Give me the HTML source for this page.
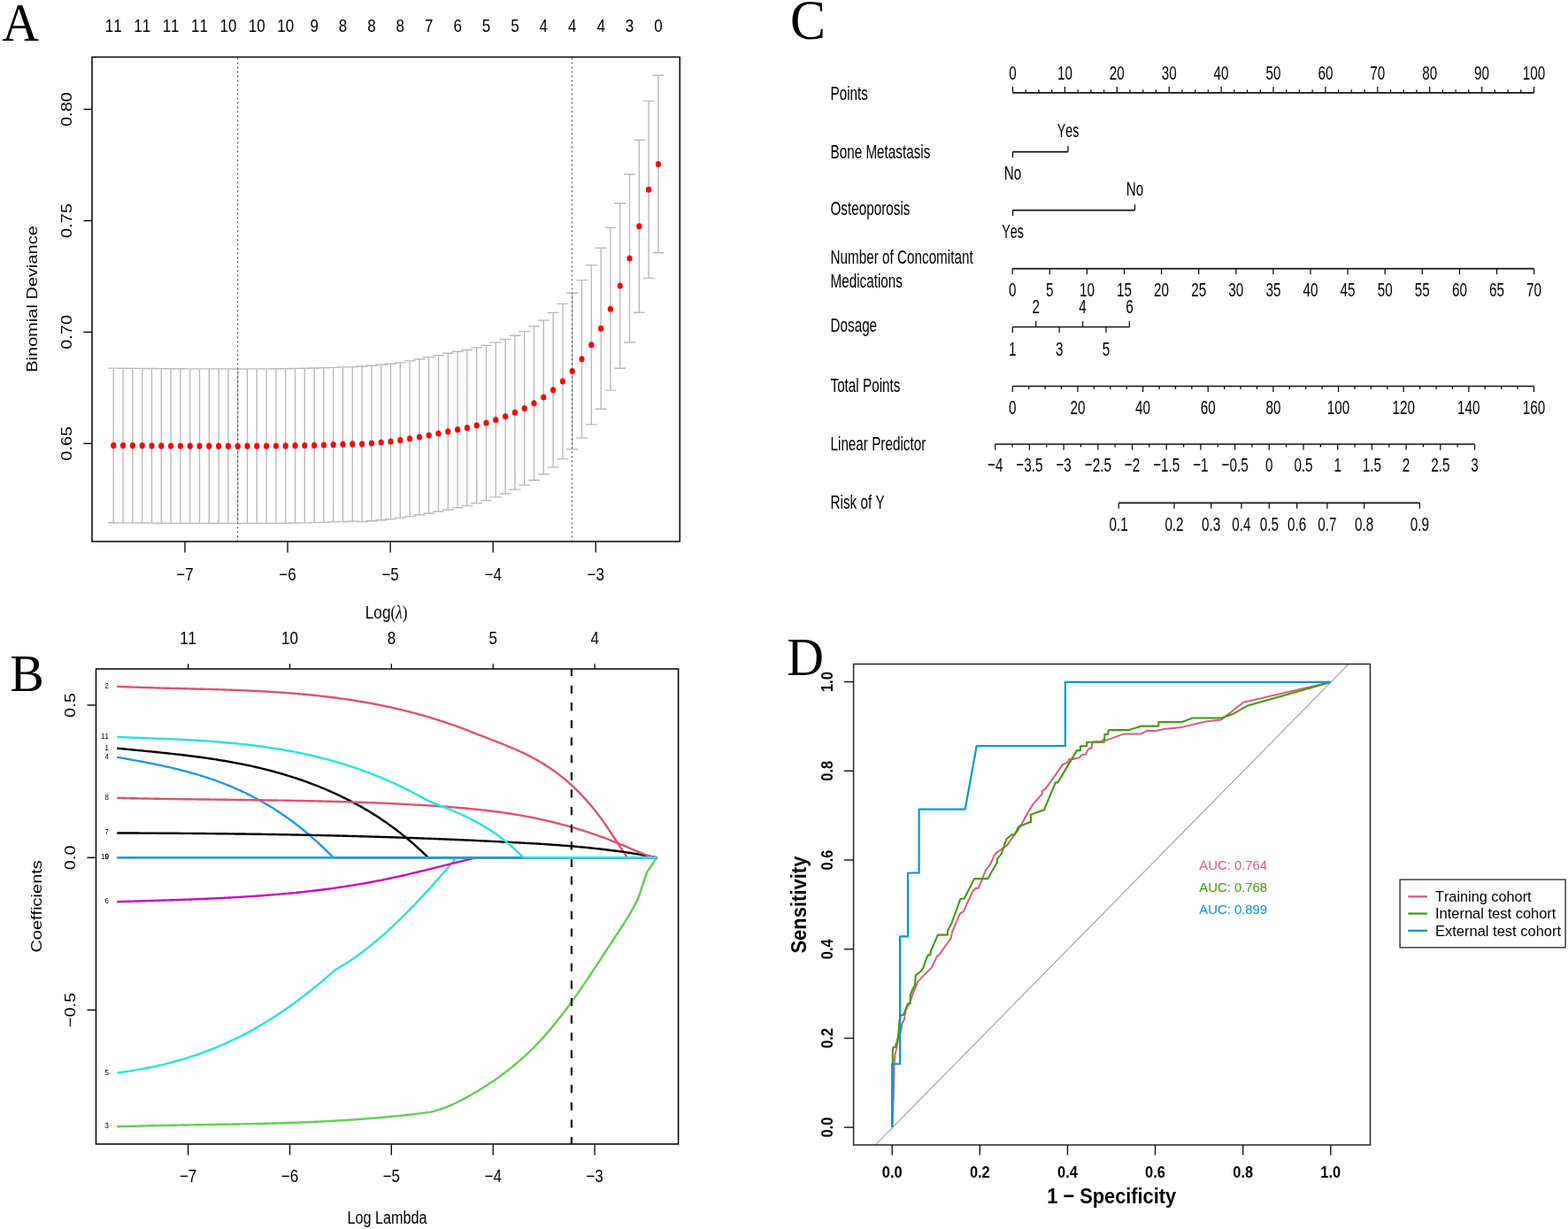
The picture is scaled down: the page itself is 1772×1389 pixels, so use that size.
<!DOCTYPE html>
<html><head><meta charset="utf-8"><title>Figure</title>
<style>html,body{margin:0;padding:0;background:#fff;overflow:hidden;}svg{display:block;}text{font-kerning:none;}</style>
</head><body>
<svg width="1772" height="1389" viewBox="0 0 1772 1389" font-family="'Liberation Sans', Arial, sans-serif">
<rect width="1772" height="1389" fill="#fff"/>
<text transform="translate(2.2,45.9) scale(0.94,1)" font-size="61.5" font-family="'Liberation Serif', serif">A</text>
<text transform="translate(128.3,36.2) scale(0.85,1)" font-size="20" text-anchor="middle">11</text>
<text transform="translate(160.7,36.2) scale(0.85,1)" font-size="20" text-anchor="middle">11</text>
<text transform="translate(193.1,36.2) scale(0.85,1)" font-size="20" text-anchor="middle">11</text>
<text transform="translate(225.5,36.2) scale(0.85,1)" font-size="20" text-anchor="middle">11</text>
<text transform="translate(257.9,36.2) scale(0.85,1)" font-size="20" text-anchor="middle">10</text>
<text transform="translate(290.3,36.2) scale(0.85,1)" font-size="20" text-anchor="middle">10</text>
<text transform="translate(322.7,36.2) scale(0.85,1)" font-size="20" text-anchor="middle">10</text>
<text transform="translate(355.1,36.2) scale(0.85,1)" font-size="20" text-anchor="middle">9</text>
<text transform="translate(387.5,36.2) scale(0.85,1)" font-size="20" text-anchor="middle">8</text>
<text transform="translate(419.9,36.2) scale(0.85,1)" font-size="20" text-anchor="middle">8</text>
<text transform="translate(452.3,36.2) scale(0.85,1)" font-size="20" text-anchor="middle">8</text>
<text transform="translate(484.7,36.2) scale(0.85,1)" font-size="20" text-anchor="middle">7</text>
<text transform="translate(517.1,36.2) scale(0.85,1)" font-size="20" text-anchor="middle">6</text>
<text transform="translate(549.5,36.2) scale(0.85,1)" font-size="20" text-anchor="middle">5</text>
<text transform="translate(581.9,36.2) scale(0.85,1)" font-size="20" text-anchor="middle">5</text>
<text transform="translate(614.3,36.2) scale(0.85,1)" font-size="20" text-anchor="middle">4</text>
<text transform="translate(646.7,36.2) scale(0.85,1)" font-size="20" text-anchor="middle">4</text>
<text transform="translate(679.1,36.2) scale(0.85,1)" font-size="20" text-anchor="middle">4</text>
<text transform="translate(711.5,36.2) scale(0.85,1)" font-size="20" text-anchor="middle">3</text>
<text transform="translate(743.9,36.2) scale(0.85,1)" font-size="20" text-anchor="middle">0</text>
<path d="M128.3,416.1V590.7M121.9,416.1H134.7M121.9,590.7H134.7M139.1,416.2V590.8M132.7,416.2H145.5M132.7,590.8H145.5M149.9,416.3V590.9M143.5,416.3H156.3M143.5,590.9H156.3M160.7,416.4V591M154.3,416.4H167.1M154.3,591H167.1M171.5,416.5V591.1M165.1,416.5H177.9M165.1,591.1H177.9M182.3,416.6V591.2M175.9,416.6H188.7M175.9,591.2H188.7M193.1,416.7V591.3M186.7,416.7H199.5M186.7,591.3H199.5M203.9,416.7V591.3M197.5,416.7H210.3M197.5,591.3H210.3M214.7,416.8V591.4M208.3,416.8H221.1M208.3,591.4H221.1M225.5,416.8V591.4M219.1,416.8H231.9M219.1,591.4H231.9M236.3,416.9V591.5M229.9,416.9H242.7M229.9,591.5H242.7M247.1,416.9V591.5M240.7,416.9H253.5M240.7,591.5H253.5M257.9,416.9V591.5M251.5,416.9H264.3M251.5,591.5H264.3M268.7,417V591.6M262.3,417H275.1M262.3,591.6H275.1M279.5,416.9V591.5M273.1,416.9H285.9M273.1,591.5H285.9M290.3,416.9V591.5M283.9,416.9H296.7M283.9,591.5H296.7M301.1,416.8V591.4M294.7,416.8H307.5M294.7,591.4H307.5M311.9,416.7V591.3M305.5,416.7H318.3M305.5,591.3H318.3M322.7,416.6V591.2M316.3,416.6H329.1M316.3,591.2H329.1M333.5,416.4V591M327.1,416.4H339.9M327.1,591H339.9M344.3,416.2V590.8M337.9,416.2H350.7M337.9,590.8H350.7M355.1,416V590.6M348.7,416H361.5M348.7,590.6H361.5M365.9,415.7V590.3M359.5,415.7H372.3M359.5,590.3H372.3M376.7,415.3V589.9M370.3,415.3H383.1M370.3,589.9H383.1M387.5,414.9V589.5M381.1,414.9H393.9M381.1,589.5H393.9M398.3,414.6V589.2M391.9,414.6H404.7M391.9,589.2H404.7M409.1,414V589.5M402.7,414H415.5M402.7,589.5H415.5M419.9,413.25V588.75M413.5,413.25H426.3M413.5,588.75H426.3M430.7,412.25V587.75M424.3,412.25H437.1M424.3,587.75H437.1M441.5,411.25V586.75M435.1,411.25H447.9M435.1,586.75H447.9M452.3,409.88V585.12M445.9,409.88H458.7M445.9,585.12H458.7M463.1,407.88V583.62M456.7,407.88H469.5M456.7,583.62H469.5M473.9,406V582M467.5,406H480.3M467.5,582H480.3M484.7,403.75V580.25M478.3,403.75H491.1M478.3,580.25H491.1M495.5,401.75V578.25M489.1,401.75H501.9M489.1,578.25H501.9M506.3,399.25V576.25M499.9,399.25H512.7M499.9,576.25H512.7M517.1,397.25V573.75M510.7,397.25H523.5M510.7,573.75H523.5M527.9,395.5V571.5M521.5,395.5H534.3M521.5,571.5H534.3M538.7,392.88V568.62M532.3,392.88H545.1M532.3,568.62H545.1M549.5,390.38V565.62M543.1,390.38H555.9M543.1,565.62H555.9M560.3,387.12V561.88M553.9,387.12H566.7M553.9,561.88H566.7M571.1,383.5V558M564.7,383.5H577.5M564.7,558H577.5M581.9,379.25V553.25M575.5,379.25H588.3M575.5,553.25H588.3M592.7,374.62V548.38M586.3,374.62H599.1M586.3,548.38H599.1M603.5,368.75V542.75M597.1,368.75H609.9M597.1,542.75H609.9M614.3,362V536M607.9,362H620.7M607.9,536H620.7M625.1,353.38V528.12M618.7,353.38H631.5M618.7,528.12H631.5M635.9,343.38V518.62M629.5,343.38H642.3M629.5,518.62H642.3M646.7,331.25V507.75M640.3,331.25H653.1M640.3,507.75H653.1M657.5,316.62V494.88M651.1,316.62H663.9M651.1,494.88H663.9M668.3,299.62V479.88M661.9,299.62H674.7M661.9,479.88H674.7M679.1,280.25V462.25M672.7,280.25H685.5M672.7,462.25H685.5M689.9,257.38V441.12M683.5,257.38H696.3M683.5,441.12H696.3M700.7,229.75V416.25M694.3,229.75H707.1M694.3,416.25H707.1M711.5,197V387M705.1,197H717.9M705.1,387H717.9M722.3,158.25V353.25M715.9,158.25H728.7M715.9,353.25H728.7M733.1,114.12V314.38M726.7,114.12H739.5M726.7,314.38H739.5M743.9,85.25V285.75M737.5,85.25H750.3M737.5,285.75H750.3" fill="none" stroke="#B9B9B9" stroke-width="1.35"/>
<line x1="268.6" y1="65.5" x2="268.6" y2="612" stroke="#444" stroke-width="1.2" stroke-dasharray="1.7 3.3"/>
<line x1="646.5" y1="65.5" x2="646.5" y2="612" stroke="#444" stroke-width="1.2" stroke-dasharray="1.7 3.3"/>
<ellipse cx="128.3" cy="503.4" rx="3.1" ry="3.6" fill="#FF0000"/>
<ellipse cx="139.1" cy="503.5" rx="3.1" ry="3.6" fill="#FF0000"/>
<ellipse cx="149.9" cy="503.6" rx="3.1" ry="3.6" fill="#FF0000"/>
<ellipse cx="160.7" cy="503.7" rx="3.1" ry="3.6" fill="#FF0000"/>
<ellipse cx="171.5" cy="503.8" rx="3.1" ry="3.6" fill="#FF0000"/>
<ellipse cx="182.3" cy="503.9" rx="3.1" ry="3.6" fill="#FF0000"/>
<ellipse cx="193.1" cy="504" rx="3.1" ry="3.6" fill="#FF0000"/>
<ellipse cx="203.9" cy="504" rx="3.1" ry="3.6" fill="#FF0000"/>
<ellipse cx="214.7" cy="504.1" rx="3.1" ry="3.6" fill="#FF0000"/>
<ellipse cx="225.5" cy="504.1" rx="3.1" ry="3.6" fill="#FF0000"/>
<ellipse cx="236.3" cy="504.2" rx="3.1" ry="3.6" fill="#FF0000"/>
<ellipse cx="247.1" cy="504.2" rx="3.1" ry="3.6" fill="#FF0000"/>
<ellipse cx="257.9" cy="504.2" rx="3.1" ry="3.6" fill="#FF0000"/>
<ellipse cx="268.7" cy="504.3" rx="3.1" ry="3.6" fill="#FF0000"/>
<ellipse cx="279.5" cy="504.2" rx="3.1" ry="3.6" fill="#FF0000"/>
<ellipse cx="290.3" cy="504.2" rx="3.1" ry="3.6" fill="#FF0000"/>
<ellipse cx="301.1" cy="504.1" rx="3.1" ry="3.6" fill="#FF0000"/>
<ellipse cx="311.9" cy="504" rx="3.1" ry="3.6" fill="#FF0000"/>
<ellipse cx="322.7" cy="503.9" rx="3.1" ry="3.6" fill="#FF0000"/>
<ellipse cx="333.5" cy="503.7" rx="3.1" ry="3.6" fill="#FF0000"/>
<ellipse cx="344.3" cy="503.5" rx="3.1" ry="3.6" fill="#FF0000"/>
<ellipse cx="355.1" cy="503.3" rx="3.1" ry="3.6" fill="#FF0000"/>
<ellipse cx="365.9" cy="503" rx="3.1" ry="3.6" fill="#FF0000"/>
<ellipse cx="376.7" cy="502.6" rx="3.1" ry="3.6" fill="#FF0000"/>
<ellipse cx="387.5" cy="502.2" rx="3.1" ry="3.6" fill="#FF0000"/>
<ellipse cx="398.3" cy="501.9" rx="3.1" ry="3.6" fill="#FF0000"/>
<ellipse cx="409.1" cy="501.75" rx="3.1" ry="3.6" fill="#FF0000"/>
<ellipse cx="419.9" cy="501" rx="3.1" ry="3.6" fill="#FF0000"/>
<ellipse cx="430.7" cy="500" rx="3.1" ry="3.6" fill="#FF0000"/>
<ellipse cx="441.5" cy="499" rx="3.1" ry="3.6" fill="#FF0000"/>
<ellipse cx="452.3" cy="497.5" rx="3.1" ry="3.6" fill="#FF0000"/>
<ellipse cx="463.1" cy="495.75" rx="3.1" ry="3.6" fill="#FF0000"/>
<ellipse cx="473.9" cy="494" rx="3.1" ry="3.6" fill="#FF0000"/>
<ellipse cx="484.7" cy="492" rx="3.1" ry="3.6" fill="#FF0000"/>
<ellipse cx="495.5" cy="490" rx="3.1" ry="3.6" fill="#FF0000"/>
<ellipse cx="506.3" cy="487.75" rx="3.1" ry="3.6" fill="#FF0000"/>
<ellipse cx="517.1" cy="485.5" rx="3.1" ry="3.6" fill="#FF0000"/>
<ellipse cx="527.9" cy="483.5" rx="3.1" ry="3.6" fill="#FF0000"/>
<ellipse cx="538.7" cy="480.75" rx="3.1" ry="3.6" fill="#FF0000"/>
<ellipse cx="549.5" cy="478" rx="3.1" ry="3.6" fill="#FF0000"/>
<ellipse cx="560.3" cy="474.5" rx="3.1" ry="3.6" fill="#FF0000"/>
<ellipse cx="571.1" cy="470.75" rx="3.1" ry="3.6" fill="#FF0000"/>
<ellipse cx="581.9" cy="466.25" rx="3.1" ry="3.6" fill="#FF0000"/>
<ellipse cx="592.7" cy="461.5" rx="3.1" ry="3.6" fill="#FF0000"/>
<ellipse cx="603.5" cy="455.75" rx="3.1" ry="3.6" fill="#FF0000"/>
<ellipse cx="614.3" cy="449" rx="3.1" ry="3.6" fill="#FF0000"/>
<ellipse cx="625.1" cy="440.75" rx="3.1" ry="3.6" fill="#FF0000"/>
<ellipse cx="635.9" cy="431" rx="3.1" ry="3.6" fill="#FF0000"/>
<ellipse cx="646.7" cy="419.5" rx="3.1" ry="3.6" fill="#FF0000"/>
<ellipse cx="657.5" cy="405.75" rx="3.1" ry="3.6" fill="#FF0000"/>
<ellipse cx="668.3" cy="389.75" rx="3.1" ry="3.6" fill="#FF0000"/>
<ellipse cx="679.1" cy="371.25" rx="3.1" ry="3.6" fill="#FF0000"/>
<ellipse cx="689.9" cy="349.25" rx="3.1" ry="3.6" fill="#FF0000"/>
<ellipse cx="700.7" cy="323" rx="3.1" ry="3.6" fill="#FF0000"/>
<ellipse cx="711.5" cy="292" rx="3.1" ry="3.6" fill="#FF0000"/>
<ellipse cx="722.3" cy="255.75" rx="3.1" ry="3.6" fill="#FF0000"/>
<ellipse cx="733.1" cy="214.25" rx="3.1" ry="3.6" fill="#FF0000"/>
<ellipse cx="743.9" cy="185.5" rx="3.1" ry="3.6" fill="#FF0000"/>
<rect x="104" y="64.5" width="664.25" height="547.5" fill="none" stroke="#000" stroke-width="1.5"/>
<line x1="94.5" y1="501.25" x2="104" y2="501.25" stroke="#000" stroke-width="1.4"/>
<text transform="translate(80.5,501.25) scale(0.85,1) rotate(-90)" font-size="20" text-anchor="middle">0.65</text>
<line x1="94.5" y1="375.35" x2="104" y2="375.35" stroke="#000" stroke-width="1.4"/>
<text transform="translate(80.5,375.35) scale(0.85,1) rotate(-90)" font-size="20" text-anchor="middle">0.70</text>
<line x1="94.5" y1="249.45" x2="104" y2="249.45" stroke="#000" stroke-width="1.4"/>
<text transform="translate(80.5,249.45) scale(0.85,1) rotate(-90)" font-size="20" text-anchor="middle">0.75</text>
<line x1="94.5" y1="123.55" x2="104" y2="123.55" stroke="#000" stroke-width="1.4"/>
<text transform="translate(80.5,123.55) scale(0.85,1) rotate(-90)" font-size="20" text-anchor="middle">0.80</text>
<line x1="209" y1="612" x2="209" y2="624.5" stroke="#000" stroke-width="1.3"/>
<text transform="translate(209,655.5) scale(0.85,1)" font-size="20" text-anchor="middle">−7</text>
<line x1="325.06" y1="612" x2="325.06" y2="624.5" stroke="#000" stroke-width="1.3"/>
<text transform="translate(325.06,655.5) scale(0.85,1)" font-size="20" text-anchor="middle">−6</text>
<line x1="441.12" y1="612" x2="441.12" y2="624.5" stroke="#000" stroke-width="1.3"/>
<text transform="translate(441.12,655.5) scale(0.85,1)" font-size="20" text-anchor="middle">−5</text>
<line x1="557.18" y1="612" x2="557.18" y2="624.5" stroke="#000" stroke-width="1.3"/>
<text transform="translate(557.18,655.5) scale(0.85,1)" font-size="20" text-anchor="middle">−4</text>
<line x1="673.24" y1="612" x2="673.24" y2="624.5" stroke="#000" stroke-width="1.3"/>
<text transform="translate(673.24,655.5) scale(0.85,1)" font-size="20" text-anchor="middle">−3</text>
<text transform="translate(42.4,338) scale(0.85,1) rotate(-90)" font-size="20" text-anchor="middle">Binomial Deviance</text>
<text transform="translate(436.6,699) scale(0.86,1)" font-size="20" text-anchor="middle">Log<tspan font-family="'Liberation Serif', serif">(<tspan font-style="italic">λ</tspan>)</tspan></text>
<text transform="translate(11.3,781.3) scale(0.98,1)" font-size="59" font-family="'Liberation Serif', serif">B</text>
<line x1="212.6" y1="756" x2="212.6" y2="750.2" stroke="#000" stroke-width="1.3"/>
<text transform="translate(212.6,728.2) scale(0.85,1)" font-size="20" text-anchor="middle">11</text>
<line x1="327.48" y1="756" x2="327.48" y2="750.2" stroke="#000" stroke-width="1.3"/>
<text transform="translate(327.48,728.2) scale(0.85,1)" font-size="20" text-anchor="middle">10</text>
<line x1="442.35" y1="756" x2="442.35" y2="750.2" stroke="#000" stroke-width="1.3"/>
<text transform="translate(442.35,728.2) scale(0.85,1)" font-size="20" text-anchor="middle">8</text>
<line x1="557.23" y1="756" x2="557.23" y2="750.2" stroke="#000" stroke-width="1.3"/>
<text transform="translate(557.23,728.2) scale(0.85,1)" font-size="20" text-anchor="middle">5</text>
<line x1="672.1" y1="756" x2="672.1" y2="750.2" stroke="#000" stroke-width="1.3"/>
<text transform="translate(672.1,728.2) scale(0.85,1)" font-size="20" text-anchor="middle">4</text>
<path d="M132.3,845.7 L134.3,845.9 L136.3,846.09 L138.3,846.29 L140.3,846.49 L142.3,846.68 L144.3,846.88 L146.3,847.07 L148.3,847.26 L150.3,847.46 L152.3,847.65 L154.3,847.84 L156.3,848.04 L158.3,848.23 L160.3,848.43 L162.3,848.62 L164.3,848.82 L166.3,849.01 L168.3,849.21 L170.3,849.41 L172.3,849.61 L174.3,849.81 L176.3,850.01 L178.3,850.21 L180.3,850.42 L182.3,850.62 L184.3,850.83 L186.3,851.04 L188.3,851.25 L190.3,851.47 L192.3,851.68 L194.3,851.9 L196.3,852.12 L198.3,852.34 L200.3,852.57 L202.3,852.8 L204.3,853.03 L206.3,853.26 L208.3,853.5 L210.3,853.74 L212.3,853.98 L214.3,854.23 L216.3,854.48 L218.3,854.73 L220.3,854.99 L222.3,855.25 L224.3,855.52 L226.3,855.79 L228.3,856.06 L230.3,856.34 L232.3,856.62 L234.3,856.91 L236.3,857.2 L238.3,857.5 L240.3,857.8 L242.3,858.11 L244.3,858.42 L246.3,858.74 L248.3,859.06 L250.3,859.38 L252.3,859.72 L254.3,860.05 L256.3,860.4 L258.3,860.75 L260.3,861.1 L262.3,861.47 L264.3,861.83 L266.3,862.21 L268.3,862.59 L270.3,862.98 L272.3,863.37 L274.3,863.77 L276.3,864.18 L278.3,864.59 L280.3,865.01 L282.3,865.44 L284.3,865.88 L286.3,866.32 L288.3,866.77 L290.3,867.23 L292.3,867.7 L294.3,868.17 L296.3,868.65 L298.3,869.14 L300.3,869.64 L302.3,870.15 L304.3,870.66 L306.3,871.19 L308.3,871.72 L310.3,872.26 L312.3,872.81 L314.3,873.37 L316.3,873.94 L318.3,874.51 L320.3,875.1 L322.3,875.7 L324.3,876.3 L326.3,876.92 L328.3,877.54 L330.3,878.17 L332.3,878.82 L334.3,879.47 L336.3,880.14 L338.3,880.81 L340.3,881.5 L342.3,882.19 L344.3,882.9 L346.3,883.62 L348.3,884.35 L350.3,885.09 L352.3,885.84 L354.3,886.6 L356.3,887.37 L358.3,888.15 L360.3,888.95 L362.3,889.76 L364.3,890.57 L366.3,891.41 L368.3,892.25 L370.3,893.1 L372.3,893.97 L374.3,894.85 L376.3,895.74 L378.3,896.65 L380.3,897.56 L382.3,898.49 L384.3,899.44 L386.3,900.39 L388.3,901.36 L390.3,902.35 L392.3,903.35 L394.3,904.36 L396.3,905.39 L398.3,906.44 L400.3,907.49 L402.3,908.57 L404.3,909.66 L406.3,910.77 L408.3,911.89 L410.3,913.04 L412.3,914.19 L414.3,915.37 L416.3,916.56 L418.3,917.78 L420.3,919.01 L422.3,920.25 L424.3,921.52 L426.3,922.81 L428.3,924.11 L430.3,925.44 L432.3,926.78 L434.3,928.15 L436.3,929.54 L438.3,930.94 L440.3,932.37 L442.3,933.82 L444.3,935.29 L446.3,936.78 L448.3,938.3 L450.3,939.83 L452.3,941.39 L454.3,942.97 L456.3,944.58 L458.3,946.21 L460.3,947.86 L462.3,949.54 L464.3,951.24 L466.3,952.96 L468.3,954.72 L470.3,956.49 L472.3,958.29 L474.3,960.12 L476.3,961.97 L478.3,963.85 L480.3,965.75 L482.3,967.69 L483.9,969.25" fill="none" stroke="#000000" stroke-width="2.4" stroke-linejoin="round"/>
<path d="M483.9,969.25 L742.3,969.25" fill="none" stroke="#000000" stroke-width="2.4" stroke-linejoin="round"/>
<path d="M132.3,775.9 L134.3,775.99 L136.3,776.07 L138.3,776.15 L140.3,776.23 L142.3,776.31 L144.3,776.39 L146.3,776.46 L148.3,776.53 L150.3,776.6 L152.3,776.67 L154.3,776.74 L156.3,776.81 L158.3,776.88 L160.3,776.94 L162.3,777 L164.3,777.07 L166.3,777.13 L168.3,777.19 L170.3,777.25 L172.3,777.3 L174.3,777.36 L176.3,777.42 L178.3,777.47 L180.3,777.53 L182.3,777.58 L184.3,777.63 L186.3,777.69 L188.3,777.74 L190.3,777.79 L192.3,777.84 L194.3,777.89 L196.3,777.94 L198.3,777.99 L200.3,778.04 L202.3,778.09 L204.3,778.14 L206.3,778.19 L208.3,778.24 L210.3,778.29 L212.3,778.34 L214.3,778.39 L216.3,778.45 L218.3,778.5 L220.3,778.55 L222.3,778.6 L224.3,778.65 L226.3,778.7 L228.3,778.76 L230.3,778.81 L232.3,778.87 L234.3,778.92 L236.3,778.98 L238.3,779.04 L240.3,779.09 L242.3,779.15 L244.3,779.21 L246.3,779.27 L248.3,779.34 L250.3,779.4 L252.3,779.47 L254.3,779.53 L256.3,779.6 L258.3,779.67 L260.3,779.74 L262.3,779.81 L264.3,779.88 L266.3,779.96 L268.3,780.04 L270.3,780.12 L272.3,780.2 L274.3,780.28 L276.3,780.36 L278.3,780.45 L280.3,780.54 L282.3,780.63 L284.3,780.72 L286.3,780.82 L288.3,780.91 L290.3,781.01 L292.3,781.11 L294.3,781.22 L296.3,781.33 L298.3,781.43 L300.3,781.55 L302.3,781.66 L304.3,781.78 L306.3,781.9 L308.3,782.02 L310.3,782.15 L312.3,782.28 L314.3,782.41 L316.3,782.54 L318.3,782.68 L320.3,782.82 L322.3,782.96 L324.3,783.11 L326.3,783.26 L328.3,783.42 L330.3,783.57 L332.3,783.74 L334.3,783.9 L336.3,784.07 L338.3,784.24 L340.3,784.42 L342.3,784.59 L344.3,784.78 L346.3,784.97 L348.3,785.16 L350.3,785.35 L352.3,785.55 L354.3,785.75 L356.3,785.96 L358.3,786.17 L360.3,786.39 L362.3,786.61 L364.3,786.83 L366.3,787.06 L368.3,787.29 L370.3,787.53 L372.3,787.77 L374.3,788.02 L376.3,788.27 L378.3,788.53 L380.3,788.79 L382.3,789.06 L384.3,789.33 L386.3,789.61 L388.3,789.89 L390.3,790.17 L392.3,790.47 L394.3,790.76 L396.3,791.06 L398.3,791.37 L400.3,791.69 L402.3,792 L404.3,792.33 L406.3,792.66 L408.3,792.99 L410.3,793.33 L412.3,793.68 L414.3,794.03 L416.3,794.39 L418.3,794.75 L420.3,795.12 L422.3,795.5 L424.3,795.88 L426.3,796.27 L428.3,796.66 L430.3,797.06 L432.3,797.47 L434.3,797.88 L436.3,798.3 L438.3,798.73 L440.3,799.16 L442.3,799.6 L444.3,800.04 L446.3,800.49 L448.3,800.95 L450.3,801.42 L452.3,801.89 L454.3,802.37 L456.3,802.86 L458.3,803.35 L460.3,803.85 L462.3,804.36 L464.3,804.87 L466.3,805.39 L468.3,805.92 L470.3,806.46 L472.3,807 L474.3,807.56 L476.3,808.11 L478.3,808.68 L480.3,809.25 L482.3,809.84 L484.3,810.42 L486.3,811.02 L488.3,811.63 L490.3,812.24 L492.3,812.86 L494.3,813.49 L496.3,814.13 L498.3,814.77 L500.3,815.42 L502.3,816.09 L504.3,816.75 L506.3,817.43 L508.3,818.12 L510.3,818.81 L512.3,819.52 L514.3,820.23 L516.3,820.95 L518.3,821.68 L520.3,822.42 L522.3,823.16 L524.3,823.92 L526.3,824.68 L528.3,825.46 L530.3,826.24 L532.3,827.03 L534.3,827.83 L536.2,828.6 L538.2,829.38 L540.2,830.16 L542.2,830.93 L544.2,831.7 L546.2,832.46 L548.2,833.22 L550.2,833.99 L552.2,834.75 L554.2,835.51 L556.2,836.27 L558.2,837.04 L560.2,837.81 L562.2,838.58 L564.2,839.36 L566.2,840.14 L568.2,840.94 L570.2,841.74 L572.2,842.55 L574.2,843.37 L576.2,844.2 L578.2,845.04 L580.2,845.9 L582.2,846.77 L584.2,847.66 L586.2,848.56 L588.2,849.48 L590.2,850.41 L592.2,851.36 L594.2,852.34 L596.2,853.33 L598.2,854.35 L600.2,855.39 L602.2,856.45 L604.2,857.53 L606.2,858.64 L608.2,859.78 L610.2,860.94 L612.2,862.13 L614.2,863.36 L616.2,864.61 L618.2,865.89 L620.2,867.2 L622.2,868.55 L624.2,869.93 L626.2,871.34 L628.2,872.79 L630.2,874.28 L632.2,875.8 L634.2,877.36 L636.2,878.97 L638.2,880.61 L640.2,882.29 L642.2,884.02 L644.2,885.78 L646.2,887.6 L648.2,889.45 L650.2,891.36 L652.2,893.31 L654.2,895.31 L656.2,897.36 L658.2,899.46 L660.2,901.62 L662.2,903.82 L664.2,906.09 L666.2,908.41 L668.2,910.79 L670.2,913.23 L672.2,915.73 L674.2,918.29 L676.2,920.92 L678.2,923.61 L680.2,926.36 L682.2,929.17 L684.2,932.04 L686.2,934.95 L688.2,937.9 L690.2,940.89 L692.2,943.9 L694.2,946.93 L696.2,949.97 L698.2,953.03 L700.2,956.09 L702.2,959.14 L704.2,962.18 L706.2,965.21 L708.2,968.21 L708.9,969.25" fill="none" stroke="#DF536B" stroke-width="2.4" stroke-linejoin="round"/>
<path d="M708.9,969.25 L742.3,969.25" fill="none" stroke="#DF536B" stroke-width="2.4" stroke-linejoin="round"/>
<path d="M132.3,1273.3 L134.3,1273.24 L136.3,1273.17 L138.3,1273.11 L140.3,1273.05 L142.3,1272.99 L144.3,1272.93 L146.3,1272.88 L148.3,1272.82 L150.3,1272.76 L152.3,1272.71 L154.3,1272.66 L156.3,1272.61 L158.3,1272.56 L160.3,1272.51 L162.3,1272.46 L164.3,1272.41 L166.3,1272.36 L168.3,1272.32 L170.3,1272.27 L172.3,1272.23 L174.3,1272.18 L176.3,1272.14 L178.3,1272.1 L180.3,1272.05 L182.3,1272.01 L184.3,1271.97 L186.3,1271.93 L188.3,1271.89 L190.3,1271.86 L192.3,1271.82 L194.3,1271.78 L196.3,1271.74 L198.3,1271.71 L200.3,1271.67 L202.3,1271.63 L204.3,1271.6 L206.3,1271.56 L208.3,1271.53 L210.3,1271.49 L212.3,1271.46 L214.3,1271.42 L216.3,1271.39 L218.3,1271.36 L220.3,1271.32 L222.3,1271.29 L224.3,1271.26 L226.3,1271.22 L228.3,1271.19 L230.3,1271.16 L232.3,1271.12 L234.3,1271.09 L236.3,1271.05 L238.3,1271.02 L240.3,1270.99 L242.3,1270.95 L244.3,1270.92 L246.3,1270.88 L248.3,1270.85 L250.3,1270.81 L252.3,1270.78 L254.3,1270.74 L256.3,1270.71 L258.3,1270.67 L260.3,1270.63 L262.3,1270.6 L264.3,1270.56 L266.3,1270.52 L268.3,1270.48 L270.3,1270.44 L272.3,1270.4 L274.3,1270.36 L276.3,1270.32 L278.3,1270.28 L280.3,1270.23 L282.3,1270.19 L284.3,1270.15 L286.3,1270.1 L288.3,1270.06 L290.3,1270.01 L292.3,1269.96 L294.3,1269.91 L296.3,1269.86 L298.3,1269.81 L300.3,1269.76 L302.3,1269.71 L304.3,1269.66 L306.3,1269.6 L308.3,1269.55 L310.3,1269.49 L312.3,1269.43 L314.3,1269.38 L316.3,1269.32 L318.3,1269.25 L320.3,1269.19 L322.3,1269.13 L324.3,1269.06 L326.3,1269 L328.3,1268.93 L330.3,1268.86 L332.3,1268.79 L334.3,1268.72 L336.3,1268.64 L338.3,1268.57 L340.3,1268.49 L342.3,1268.41 L344.3,1268.33 L346.3,1268.25 L348.3,1268.17 L350.3,1268.09 L352.3,1268 L354.3,1267.91 L356.3,1267.82 L358.3,1267.73 L360.3,1267.64 L362.3,1267.54 L364.3,1267.44 L366.3,1267.35 L368.3,1267.24 L370.3,1267.14 L372.3,1267.04 L374.3,1266.93 L376.3,1266.82 L378.3,1266.71 L380.3,1266.6 L382.3,1266.48 L384.3,1266.36 L386.3,1266.25 L388.3,1266.12 L390.3,1266 L392.3,1265.87 L394.3,1265.75 L396.3,1265.62 L398.3,1265.48 L400.3,1265.35 L402.3,1265.21 L404.3,1265.07 L406.3,1264.93 L408.3,1264.78 L410.3,1264.63 L412.3,1264.48 L414.3,1264.33 L416.3,1264.18 L418.3,1264.02 L420.3,1263.86 L422.3,1263.69 L424.3,1263.53 L426.3,1263.36 L428.3,1263.19 L430.3,1263.01 L432.3,1262.84 L434.3,1262.66 L436.3,1262.48 L438.3,1262.29 L440.3,1262.1 L442.3,1261.91 L444.3,1261.72 L446.3,1261.52 L448.3,1261.32 L450.3,1261.11 L452.3,1260.91 L454.3,1260.7 L456.3,1260.49 L458.3,1260.27 L460.3,1260.05 L462.3,1259.83 L464.3,1259.6 L466.3,1259.37 L468.3,1259.14 L470.3,1258.91 L472.3,1258.67 L474.3,1258.43 L476.3,1258.18 L478.3,1257.93 L480.3,1257.68 L482.3,1257.42 L484.3,1257.16 L486.3,1256.9 L488.3,1256.45 L490.3,1255.96 L492.3,1255.42 L494.3,1254.84 L496.3,1254.22 L498.3,1253.56 L500.3,1252.86 L502.3,1252.12 L504.3,1251.35 L506.3,1250.54 L508.3,1249.7 L510.3,1248.82 L512.3,1247.92 L514.3,1246.98 L516.3,1246.02 L518.3,1245.03 L520.3,1244.02 L522.3,1242.98 L524.3,1241.91 L526.3,1240.83 L528.3,1239.72 L530.3,1238.6 L532.3,1237.45 L534.3,1236.29 L536.3,1235.12 L538.3,1233.93 L540.3,1232.72 L542.3,1231.51 L544.3,1230.27 L546.3,1229.02 L548.3,1227.76 L550.3,1226.48 L552.3,1225.18 L554.3,1223.86 L556.3,1222.52 L558.3,1221.16 L560.3,1219.79 L562.3,1218.39 L564.3,1216.96 L566.3,1215.52 L568.3,1214.05 L570.3,1212.56 L572.3,1211.04 L574.3,1209.5 L576.3,1207.93 L578.3,1206.33 L580.3,1204.7 L582.3,1203.05 L584.3,1201.37 L586.3,1199.65 L588.3,1197.91 L590.3,1196.14 L592.3,1194.33 L594.3,1192.49 L596.3,1190.61 L598.3,1188.71 L600.3,1186.76 L602.3,1184.78 L604.3,1182.77 L606.3,1180.71 L608.3,1178.62 L610.3,1176.49 L612.3,1174.33 L614.3,1172.12 L616.3,1169.87 L618.3,1167.58 L620.3,1165.25 L622.3,1162.89 L624.3,1160.48 L626.3,1158.05 L628.3,1155.57 L630.3,1153.07 L632.3,1150.52 L634.3,1147.95 L636.3,1145.34 L638.3,1142.71 L640.3,1140.04 L642.3,1137.34 L644.3,1134.62 L646.3,1131.86 L648.3,1129.08 L650.3,1126.28 L652.3,1123.45 L654.3,1120.59 L656.3,1117.71 L658.3,1114.81 L660.3,1111.88 L662.3,1108.94 L664.3,1105.97 L666.3,1102.99 L668.3,1099.98 L670.3,1096.96 L672.3,1093.92 L674.3,1090.87 L676.3,1087.81 L678.3,1084.74 L680.3,1081.66 L682.3,1078.59 L684.3,1075.51 L686.3,1072.44 L688.3,1069.37 L690.3,1066.32 L692.3,1063.28 L694.3,1060.25 L696.3,1057.24 L698.3,1054.23 L700.3,1051.22 L702.3,1048.17 L704.3,1045.09 L706.3,1041.95 L708.3,1038.74 L710.3,1035.44 L712.3,1032.05 L714.3,1028.53 L716.3,1024.89 L718.3,1021.1 L720.3,1017.14 L721.3,1015.1 L723.3,1009.1 L725.3,1003.1 L727.3,997.1 L729.3,991.1 L731.1,985.7 L733.1,982.76 L735.1,979.83 L737.1,976.89 L739.1,973.95 L741.1,971.01 L742.3,969.25" fill="none" stroke="#61D04F" stroke-width="2.4" stroke-linejoin="round"/>
<path d="M132.3,855.8 L134.3,856.15 L136.3,856.5 L138.3,856.84 L140.3,857.19 L142.3,857.55 L144.3,857.9 L146.3,858.25 L148.3,858.61 L150.3,858.97 L152.3,859.33 L154.3,859.69 L156.3,860.06 L158.3,860.43 L160.3,860.8 L162.3,861.18 L164.3,861.56 L166.3,861.94 L168.3,862.33 L170.3,862.72 L172.3,863.12 L174.3,863.52 L176.3,863.93 L178.3,864.34 L180.3,864.76 L182.3,865.19 L184.3,865.62 L186.3,866.05 L188.3,866.49 L190.3,866.94 L192.3,867.4 L194.3,867.86 L196.3,868.33 L198.3,868.81 L200.3,869.3 L202.3,869.79 L204.3,870.29 L206.3,870.8 L208.3,871.32 L210.3,871.85 L212.3,872.39 L214.3,872.93 L216.3,873.49 L218.3,874.06 L220.3,874.63 L222.3,875.22 L224.3,875.82 L226.3,876.42 L228.3,877.04 L230.3,877.67 L232.3,878.31 L234.3,878.96 L236.3,879.63 L238.3,880.3 L240.3,880.99 L242.3,881.69 L244.3,882.41 L246.3,883.13 L248.3,883.87 L250.3,884.63 L252.3,885.39 L254.3,886.17 L256.3,886.97 L258.3,887.78 L260.3,888.6 L262.3,889.44 L264.3,890.29 L266.3,891.16 L268.3,892.04 L270.3,892.94 L272.3,893.86 L274.3,894.79 L276.3,895.73 L278.3,896.7 L280.3,897.68 L282.3,898.68 L284.3,899.69 L286.3,900.72 L288.3,901.77 L290.3,902.84 L292.3,903.93 L294.3,905.03 L296.3,906.15 L298.3,907.3 L300.3,908.46 L302.3,909.64 L304.3,910.83 L306.3,912.05 L308.3,913.29 L310.3,914.55 L312.3,915.83 L314.3,917.13 L316.3,918.45 L318.3,919.79 L320.3,921.15 L322.3,922.54 L324.3,923.94 L326.3,925.37 L328.3,926.82 L330.3,928.29 L332.3,929.79 L334.3,931.31 L336.3,932.85 L338.3,934.41 L340.3,936 L342.3,937.61 L344.3,939.24 L346.3,940.9 L348.3,942.59 L350.3,944.29 L352.3,946.03 L354.3,947.78 L356.3,949.57 L358.3,951.38 L360.3,953.21 L362.3,955.07 L364.3,956.96 L366.3,958.87 L368.3,960.81 L370.3,962.78 L372.3,964.77 L374.3,966.79 L376.3,968.84 L376.7,969.25" fill="none" stroke="#2297E6" stroke-width="2.4" stroke-linejoin="round"/>
<path d="M376.7,969.25 L742.3,969.25" fill="none" stroke="#2297E6" stroke-width="2.4" stroke-linejoin="round"/>
<path d="M132.3,1212.6 L134.3,1212.33 L136.3,1212.06 L138.3,1211.78 L140.3,1211.49 L142.3,1211.2 L144.3,1210.9 L146.3,1210.59 L148.3,1210.27 L150.3,1209.94 L152.3,1209.61 L154.3,1209.27 L156.3,1208.92 L158.3,1208.56 L160.3,1208.19 L162.3,1207.82 L164.3,1207.43 L166.3,1207.04 L168.3,1206.64 L170.3,1206.23 L172.3,1205.81 L174.3,1205.38 L176.3,1204.94 L178.3,1204.5 L180.3,1204.04 L182.3,1203.57 L184.3,1203.1 L186.3,1202.61 L188.3,1202.12 L190.3,1201.61 L192.3,1201.09 L194.3,1200.57 L196.3,1200.03 L198.3,1199.48 L200.3,1198.93 L202.3,1198.36 L204.3,1197.78 L206.3,1197.19 L208.3,1196.59 L210.3,1195.98 L212.3,1195.35 L214.3,1194.72 L216.3,1194.08 L218.3,1193.42 L220.3,1192.75 L222.3,1192.07 L224.3,1191.38 L226.3,1190.67 L228.3,1189.96 L230.3,1189.23 L232.3,1188.49 L234.3,1187.73 L236.3,1186.97 L238.3,1186.19 L240.3,1185.4 L242.3,1184.6 L244.3,1183.78 L246.3,1182.95 L248.3,1182.11 L250.3,1181.25 L252.3,1180.39 L254.3,1179.5 L256.3,1178.61 L258.3,1177.7 L260.3,1176.78 L262.3,1175.84 L264.3,1174.89 L266.3,1173.92 L268.3,1172.95 L270.3,1171.95 L272.3,1170.95 L274.3,1169.92 L276.3,1168.89 L278.3,1167.84 L280.3,1166.77 L282.3,1165.69 L284.3,1164.59 L286.3,1163.48 L288.3,1162.36 L290.3,1161.22 L292.3,1160.06 L294.3,1158.89 L296.3,1157.71 L298.3,1156.51 L300.3,1155.29 L302.3,1154.06 L304.3,1152.81 L306.3,1151.56 L308.3,1150.28 L310.3,1148.99 L312.3,1147.69 L314.3,1146.37 L316.3,1145.04 L318.3,1143.69 L320.3,1142.33 L322.3,1140.95 L324.3,1139.56 L326.3,1138.15 L328.3,1136.73 L330.3,1135.3 L332.3,1133.85 L334.3,1132.39 L336.3,1130.91 L338.3,1129.42 L340.3,1127.91 L342.3,1126.39 L344.3,1124.86 L346.3,1123.31 L348.3,1121.74 L350.3,1120.17 L352.3,1118.57 L354.3,1116.97 L356.3,1115.35 L358.3,1113.71 L360.3,1112.07 L362.3,1110.41 L364.3,1108.73 L366.3,1107.04 L368.3,1105.34 L370.3,1103.62 L372.3,1101.89 L374.3,1100.14 L376.3,1098.38 L378.3,1096.61 L379.1,1095.9 L381.1,1094.78 L383.1,1093.63 L385.1,1092.45 L387.1,1091.24 L389.1,1090.01 L391.1,1088.75 L393.1,1087.47 L395.1,1086.15 L397.1,1084.82 L399.1,1083.45 L401.1,1082.06 L403.1,1080.65 L405.1,1079.21 L407.1,1077.75 L409.1,1076.26 L411.1,1074.74 L413.1,1073.21 L415.1,1071.65 L417.1,1070.07 L419.1,1068.46 L421.1,1066.83 L423.1,1065.18 L425.1,1063.51 L427.1,1061.82 L429.1,1060.1 L431.1,1058.37 L433.1,1056.61 L435.1,1054.83 L437.1,1053.03 L439.1,1051.21 L441.1,1049.38 L443.1,1047.52 L445.1,1045.64 L447.1,1043.75 L449.1,1041.84 L451.1,1039.9 L453.1,1037.96 L455.1,1035.99 L457.1,1034 L459.1,1032 L461.1,1029.98 L463.1,1027.95 L465.1,1025.9 L467.1,1023.83 L469.1,1021.75 L471.1,1019.65 L473.1,1017.54 L475.1,1015.41 L477.1,1013.27 L479.1,1011.11 L481.1,1008.94 L483.1,1006.76 L485.1,1004.56 L487.1,1002.35 L489.1,1000.13 L491.1,997.89 L493.1,995.64 L495.1,993.38 L497.1,991.11 L499.1,988.83 L501.1,986.54 L503.1,984.23 L505.1,981.92 L507.1,979.59 L509.1,977.26 L511.1,974.91 L513.1,972.56 L515.1,970.2 L515.9,969.25" fill="none" stroke="#28E2E5" stroke-width="2.4" stroke-linejoin="round"/>
<path d="M515.9,969.25 L742.3,969.25" fill="none" stroke="#28E2E5" stroke-width="2.4" stroke-linejoin="round"/>
<path d="M132.3,1019.2 L134.3,1019.13 L136.3,1019.07 L138.3,1019 L140.3,1018.94 L142.3,1018.87 L144.3,1018.81 L146.3,1018.75 L148.3,1018.68 L150.3,1018.62 L152.3,1018.56 L154.3,1018.5 L156.3,1018.43 L158.3,1018.37 L160.3,1018.31 L162.3,1018.25 L164.3,1018.18 L166.3,1018.12 L168.3,1018.06 L170.3,1018 L172.3,1017.93 L174.3,1017.87 L176.3,1017.81 L178.3,1017.75 L180.3,1017.68 L182.3,1017.62 L184.3,1017.55 L186.3,1017.49 L188.3,1017.42 L190.3,1017.36 L192.3,1017.29 L194.3,1017.22 L196.3,1017.16 L198.3,1017.09 L200.3,1017.02 L202.3,1016.95 L204.3,1016.88 L206.3,1016.81 L208.3,1016.74 L210.3,1016.66 L212.3,1016.59 L214.3,1016.52 L216.3,1016.44 L218.3,1016.36 L220.3,1016.29 L222.3,1016.21 L224.3,1016.13 L226.3,1016.05 L228.3,1015.96 L230.3,1015.88 L232.3,1015.8 L234.3,1015.71 L236.3,1015.62 L238.3,1015.53 L240.3,1015.44 L242.3,1015.35 L244.3,1015.26 L246.3,1015.16 L248.3,1015.07 L250.3,1014.97 L252.3,1014.87 L254.3,1014.77 L256.3,1014.66 L258.3,1014.56 L260.3,1014.45 L262.3,1014.34 L264.3,1014.23 L266.3,1014.12 L268.3,1014.01 L270.3,1013.89 L272.3,1013.77 L274.3,1013.65 L276.3,1013.53 L278.3,1013.4 L280.3,1013.28 L282.3,1013.15 L284.3,1013.02 L286.3,1012.88 L288.3,1012.75 L290.3,1012.61 L292.3,1012.47 L294.3,1012.33 L296.3,1012.18 L298.3,1012.03 L300.3,1011.88 L302.3,1011.73 L304.3,1011.57 L306.3,1011.42 L308.3,1011.25 L310.3,1011.09 L312.3,1010.92 L314.3,1010.75 L316.3,1010.58 L318.3,1010.41 L320.3,1010.23 L322.3,1010.05 L324.3,1009.86 L326.3,1009.68 L328.3,1009.49 L330.3,1009.29 L332.3,1009.1 L334.3,1008.9 L336.3,1008.69 L338.3,1008.49 L340.3,1008.28 L342.3,1008.07 L344.3,1007.85 L346.3,1007.63 L348.3,1007.41 L350.3,1007.18 L352.3,1006.95 L354.3,1006.72 L356.3,1006.48 L358.3,1006.24 L360.3,1006 L362.3,1005.75 L364.3,1005.5 L366.3,1005.24 L368.3,1004.98 L370.3,1004.72 L372.3,1004.45 L374.3,1004.18 L376.3,1003.91 L378.3,1003.63 L380.3,1003.34 L382.3,1003.06 L384.3,1002.77 L386.3,1002.47 L388.3,1002.17 L390.3,1001.87 L392.3,1001.56 L394.3,1001.25 L396.3,1000.93 L398.3,1000.61 L400.3,1000.28 L402.3,999.95 L404.3,999.62 L406.3,999.28 L408.3,998.94 L410.3,998.59 L412.3,998.24 L414.3,997.88 L416.3,997.52 L418.3,997.15 L420.3,996.78 L422.3,996.4 L424.3,996.02 L426.3,995.63 L428.3,995.24 L430.3,994.85 L432.3,994.45 L434.3,994.04 L436.3,993.63 L438.3,993.21 L440.3,992.79 L442.3,992.36 L444.3,991.93 L446.3,991.5 L448.3,991.06 L450.3,990.62 L452.3,990.17 L454.3,989.72 L456.3,989.26 L458.3,988.8 L460.3,988.34 L462.3,987.87 L464.3,987.41 L466.3,986.93 L468.3,986.46 L470.3,985.98 L472.3,985.5 L474.3,985.02 L476.3,984.54 L478.3,984.05 L480.3,983.56 L482.3,983.07 L484.3,982.58 L486.3,982.09 L488.3,981.59 L490.3,981.1 L492.3,980.6 L494.3,980.1 L496.3,979.61 L498.3,979.11 L500.3,978.61 L502.3,978.11 L504.3,977.61 L506.3,977.11 L508.3,976.61 L510.3,976.11 L512.3,975.61 L514.3,975.11 L516.3,974.62 L518.3,974.12 L520.3,973.63 L522.3,973.13 L524.3,972.64 L526.3,972.15 L528.3,971.66 L530.3,971.17 L532.3,970.69 L534.3,970.2 L536.3,969.72 L538.3,969.25" fill="none" stroke="#CD0BBC" stroke-width="2.4" stroke-linejoin="round"/>
<path d="M538.3,969.25 L742.3,969.25" fill="none" stroke="#CD0BBC" stroke-width="2.4" stroke-linejoin="round"/>
<path d="M132.3,941.5 L134.3,941.5 L136.3,941.51 L138.3,941.51 L140.3,941.52 L142.3,941.53 L144.3,941.53 L146.3,941.54 L148.3,941.54 L150.3,941.55 L152.3,941.56 L154.3,941.56 L156.3,941.57 L158.3,941.58 L160.3,941.59 L162.3,941.6 L164.3,941.6 L166.3,941.61 L168.3,941.62 L170.3,941.63 L172.3,941.64 L174.3,941.65 L176.3,941.66 L178.3,941.67 L180.3,941.68 L182.3,941.69 L184.3,941.7 L186.3,941.72 L188.3,941.73 L190.3,941.74 L192.3,941.75 L194.3,941.76 L196.3,941.78 L198.3,941.79 L200.3,941.8 L202.3,941.82 L204.3,941.83 L206.3,941.85 L208.3,941.86 L210.3,941.88 L212.3,941.89 L214.3,941.91 L216.3,941.92 L218.3,941.94 L220.3,941.96 L222.3,941.97 L224.3,941.99 L226.3,942.01 L228.3,942.03 L230.3,942.05 L232.3,942.06 L234.3,942.08 L236.3,942.1 L238.3,942.12 L240.3,942.14 L242.3,942.16 L244.3,942.18 L246.3,942.21 L248.3,942.23 L250.3,942.25 L252.3,942.27 L254.3,942.29 L256.3,942.32 L258.3,942.34 L260.3,942.36 L262.3,942.39 L264.3,942.41 L266.3,942.44 L268.3,942.46 L270.3,942.49 L272.3,942.51 L274.3,942.54 L276.3,942.56 L278.3,942.59 L280.3,942.62 L282.3,942.65 L284.3,942.67 L286.3,942.7 L288.3,942.73 L290.3,942.76 L292.3,942.79 L294.3,942.82 L296.3,942.85 L298.3,942.88 L300.3,942.91 L302.3,942.94 L304.3,942.98 L306.3,943.01 L308.3,943.04 L310.3,943.07 L312.3,943.11 L314.3,943.14 L316.3,943.18 L318.3,943.21 L320.3,943.25 L322.3,943.28 L324.3,943.32 L326.3,943.35 L328.3,943.39 L330.3,943.43 L332.3,943.47 L334.3,943.5 L336.3,943.54 L338.3,943.58 L340.3,943.62 L342.3,943.66 L344.3,943.7 L346.3,943.74 L348.3,943.78 L350.3,943.82 L352.3,943.87 L354.3,943.91 L356.3,943.95 L358.3,944 L360.3,944.04 L362.3,944.08 L364.3,944.13 L366.3,944.17 L368.3,944.22 L370.3,944.27 L372.3,944.31 L374.3,944.36 L376.3,944.41 L378.3,944.46 L380.3,944.5 L382.3,944.55 L384.3,944.6 L386.3,944.65 L388.3,944.7 L390.3,944.75 L392.3,944.81 L394.3,944.86 L396.3,944.91 L398.3,944.96 L400.3,945.02 L402.3,945.07 L404.3,945.12 L406.3,945.18 L408.3,945.23 L410.3,945.29 L412.3,945.35 L414.3,945.4 L416.3,945.46 L418.3,945.52 L420.3,945.58 L422.3,945.64 L424.3,945.7 L426.3,945.76 L428.3,945.82 L430.3,945.88 L432.3,945.94 L434.3,946 L436.3,946.06 L438.3,946.13 L440.3,946.19 L442.3,946.25 L444.3,946.32 L446.3,946.38 L448.3,946.45 L450.3,946.52 L452.3,946.58 L454.3,946.65 L456.3,946.72 L458.3,946.79 L460.3,946.86 L462.3,946.93 L464.3,947 L466.3,947.07 L468.3,947.14 L470.3,947.21 L472.3,947.28 L474.3,947.36 L476.3,947.43 L478.3,947.5 L480.3,947.58 L482.3,947.65 L484.3,947.73 L486.3,947.8 L488.3,947.88 L490.3,947.96 L492.3,948.04 L494.3,948.12 L496.3,948.2 L498.3,948.28 L500.3,948.36 L502.3,948.44 L504.3,948.52 L506.3,948.6 L508.3,948.68 L510.3,948.77 L512.3,948.85 L514.3,948.94 L516.3,949.02 L518.3,949.11 L520.3,949.19 L522.3,949.28 L524.3,949.37 L526.3,949.46 L528.3,949.54 L530.3,949.63 L532.3,949.72 L534.3,949.81 L536.3,949.91 L538.3,950 L540.3,950.09 L542.3,950.18 L544.3,950.28 L546.3,950.37 L548.3,950.47 L550.3,950.56 L552.3,950.66 L554.3,950.76 L556.3,950.85 L558.3,950.95 L560.3,951.05 L562.3,951.15 L564.3,951.25 L566.3,951.35 L568.3,951.45 L570.3,951.56 L572.3,951.66 L574.3,951.76 L576.3,951.87 L578.3,951.97 L580.3,952.08 L582.3,952.18 L584.3,952.29 L586.3,952.4 L588.3,952.51 L590.3,952.62 L592.3,952.73 L594.3,952.84 L596.3,952.95 L598.3,953.07 L600.3,953.18 L602.3,953.3 L604.3,953.42 L606.3,953.54 L608.3,953.67 L610.3,953.79 L612.3,953.92 L614.3,954.04 L616.3,954.17 L618.3,954.3 L620.3,954.44 L622.3,954.57 L624.3,954.71 L626.3,954.85 L628.3,955 L630.3,955.14 L632.3,955.29 L634.3,955.44 L636.3,955.59 L638.3,955.75 L640.3,955.91 L642.3,956.07 L644.3,956.23 L646.3,956.4 L648.3,956.57 L650.3,956.74 L652.3,956.92 L654.3,957.1 L656.3,957.28 L658.3,957.47 L660.3,957.66 L662.3,957.85 L664.3,958.05 L666.3,958.25 L668.3,958.45 L670.3,958.66 L672.3,958.87 L674.3,959.09 L676.3,959.3 L678.3,959.53 L680.3,959.76 L682.3,959.99 L684.3,960.22 L686.3,960.47 L688.3,960.71 L690.3,960.96 L692.3,961.21 L694.3,961.47 L696.3,961.74 L698.3,962 L700.3,962.28 L702.3,962.56 L704.3,962.84 L706.3,963.13 L708.3,963.42 L710.3,963.72 L712.3,964.02 L714.3,964.33 L716.3,964.64 L718.3,964.96 L720.3,965.29 L722.3,965.62 L724.3,965.95 L726.3,966.3 L728.3,966.64 L730.3,967 L732.3,967.36 L734.3,967.72 L736.3,968.09 L738.3,968.47 L740.3,968.85 L742.3,969.25" fill="none" stroke="#000000" stroke-width="2.4" stroke-linejoin="round"/>
<path d="M132.3,901.8 L134.3,901.85 L136.3,901.9 L138.3,901.95 L140.3,902 L142.3,902.04 L144.3,902.09 L146.3,902.13 L148.3,902.18 L150.3,902.22 L152.3,902.26 L154.3,902.31 L156.3,902.35 L158.3,902.39 L160.3,902.43 L162.3,902.47 L164.3,902.51 L166.3,902.54 L168.3,902.58 L170.3,902.62 L172.3,902.65 L174.3,902.69 L176.3,902.72 L178.3,902.76 L180.3,902.79 L182.3,902.83 L184.3,902.86 L186.3,902.89 L188.3,902.92 L190.3,902.95 L192.3,902.98 L194.3,903.01 L196.3,903.04 L198.3,903.07 L200.3,903.1 L202.3,903.13 L204.3,903.16 L206.3,903.19 L208.3,903.22 L210.3,903.24 L212.3,903.27 L214.3,903.3 L216.3,903.32 L218.3,903.35 L220.3,903.37 L222.3,903.4 L224.3,903.43 L226.3,903.45 L228.3,903.48 L230.3,903.5 L232.3,903.52 L234.3,903.55 L236.3,903.57 L238.3,903.6 L240.3,903.62 L242.3,903.65 L244.3,903.67 L246.3,903.69 L248.3,903.72 L250.3,903.74 L252.3,903.77 L254.3,903.79 L256.3,903.81 L258.3,903.84 L260.3,903.86 L262.3,903.88 L264.3,903.91 L266.3,903.93 L268.3,903.96 L270.3,903.98 L272.3,904.01 L274.3,904.03 L276.3,904.05 L278.3,904.08 L280.3,904.1 L282.3,904.13 L284.3,904.16 L286.3,904.18 L288.3,904.21 L290.3,904.23 L292.3,904.26 L294.3,904.29 L296.3,904.31 L298.3,904.34 L300.3,904.37 L302.3,904.4 L304.3,904.43 L306.3,904.46 L308.3,904.49 L310.3,904.51 L312.3,904.55 L314.3,904.58 L316.3,904.61 L318.3,904.64 L320.3,904.67 L322.3,904.7 L324.3,904.74 L326.3,904.77 L328.3,904.8 L330.3,904.84 L332.3,904.87 L334.3,904.91 L336.3,904.95 L338.3,904.98 L340.3,905.02 L342.3,905.06 L344.3,905.1 L346.3,905.14 L348.3,905.18 L350.3,905.22 L352.3,905.26 L354.3,905.31 L356.3,905.35 L358.3,905.4 L360.3,905.44 L362.3,905.49 L364.3,905.53 L366.3,905.58 L368.3,905.63 L370.3,905.68 L372.3,905.73 L374.3,905.78 L376.3,905.83 L378.3,905.88 L380.3,905.94 L382.3,905.99 L384.3,906.05 L386.3,906.11 L388.3,906.16 L390.3,906.22 L392.3,906.28 L394.3,906.34 L396.3,906.41 L398.3,906.47 L400.3,906.53 L402.3,906.6 L404.3,906.66 L406.3,906.73 L408.3,906.8 L410.3,906.87 L412.3,906.94 L414.3,907.01 L416.3,907.09 L418.3,907.16 L420.3,907.24 L422.3,907.31 L424.3,907.39 L426.3,907.47 L428.3,907.55 L430.3,907.64 L432.3,907.72 L434.3,907.8 L436.3,907.89 L438.3,907.98 L440.3,908.07 L442.3,908.16 L444.3,908.25 L446.3,908.34 L448.3,908.44 L450.3,908.53 L452.3,908.63 L454.3,908.73 L456.3,908.83 L458.3,908.93 L460.3,909.04 L462.3,909.14 L464.3,909.25 L466.3,909.36 L468.3,909.47 L470.3,909.58 L472.3,909.69 L474.3,909.81 L476.3,909.92 L478.3,910.04 L480.3,910.16 L482.3,910.28 L484.3,910.41 L486.3,910.53 L488.3,910.66 L490.3,910.79 L492.3,910.92 L494.3,911.05 L496.3,911.19 L498.3,911.32 L500.3,911.46 L502.3,911.61 L504.3,911.75 L506.3,911.9 L508.3,912.05 L510.3,912.2 L512.3,912.36 L514.3,912.52 L516.3,912.68 L518.3,912.85 L520.3,913.01 L522.3,913.19 L524.3,913.36 L526.3,913.54 L528.3,913.73 L530.3,913.91 L532.3,914.11 L534.3,914.3 L536.3,914.5 L538.3,914.71 L540.3,914.91 L542.3,915.13 L544.3,915.35 L546.3,915.57 L548.3,915.8 L550.3,916.03 L552.3,916.27 L554.3,916.51 L556.3,916.76 L558.3,917.01 L560.3,917.27 L562.3,917.53 L564.3,917.8 L566.3,918.08 L568.3,918.36 L570.3,918.65 L572.3,918.94 L574.3,919.24 L576.3,919.55 L578.3,919.86 L580.3,920.18 L582.3,920.5 L584.3,920.83 L586.3,921.17 L588.3,921.52 L590.3,921.87 L592.3,922.23 L594.3,922.6 L596.3,922.97 L598.3,923.35 L600.3,923.74 L602.3,924.14 L604.3,924.54 L606.3,924.96 L608.3,925.38 L610.3,925.8 L612.3,926.24 L614.3,926.68 L616.3,927.13 L618.3,927.59 L620.3,928.06 L622.3,928.54 L624.3,929.02 L626.3,929.51 L628.3,930.01 L630.3,930.52 L632.3,931.03 L634.3,931.56 L636.3,932.09 L638.3,932.63 L640.3,933.18 L642.3,933.74 L644.3,934.3 L646.3,934.88 L648.3,935.46 L650.3,936.05 L652.3,936.65 L654.3,937.26 L656.3,937.88 L658.3,938.51 L660.3,939.15 L662.3,939.79 L664.3,940.44 L666.3,941.11 L668.3,941.78 L670.3,942.46 L672.3,943.15 L674.3,943.85 L676.3,944.56 L678.3,945.27 L680.3,946 L682.3,946.74 L684.3,947.48 L686.3,948.24 L688.3,949 L690.3,949.77 L692.3,950.56 L694.3,951.35 L696.3,952.15 L698.3,952.96 L700.3,953.78 L702.3,954.61 L704.3,955.45 L706.3,956.29 L708.3,957.13 L710.3,957.98 L712.3,958.83 L714.3,959.68 L716.3,960.52 L718.3,961.37 L720.3,962.21 L722.3,963.04 L724.3,963.87 L726.3,964.69 L728.3,965.5 L730.3,966.28 L732.3,967.02 L734.3,967.68 L736.3,968.26 L738.3,968.72 L740.3,969.06 L742.3,969.25" fill="none" stroke="#DF536B" stroke-width="2.4" stroke-linejoin="round"/>
<path d="M132.3,969.25 L742.3,969.25" fill="none" stroke="#61D04F" stroke-width="2.4" stroke-linejoin="round"/>
<path d="M132.3,969.25 L742.3,969.25" fill="none" stroke="#2297E6" stroke-width="2.4" stroke-linejoin="round"/>
<path d="M132.3,832.9 L134.3,832.98 L136.3,833.06 L138.3,833.14 L140.3,833.22 L142.3,833.3 L144.3,833.37 L146.3,833.45 L148.3,833.53 L150.3,833.6 L152.3,833.68 L154.3,833.76 L156.3,833.83 L158.3,833.91 L160.3,833.98 L162.3,834.06 L164.3,834.14 L166.3,834.21 L168.3,834.29 L170.3,834.37 L172.3,834.45 L174.3,834.53 L176.3,834.61 L178.3,834.69 L180.3,834.77 L182.3,834.85 L184.3,834.93 L186.3,835.02 L188.3,835.1 L190.3,835.19 L192.3,835.28 L194.3,835.37 L196.3,835.46 L198.3,835.55 L200.3,835.65 L202.3,835.75 L204.3,835.84 L206.3,835.95 L208.3,836.05 L210.3,836.15 L212.3,836.26 L214.3,836.37 L216.3,836.48 L218.3,836.59 L220.3,836.71 L222.3,836.83 L224.3,836.95 L226.3,837.07 L228.3,837.2 L230.3,837.33 L232.3,837.46 L234.3,837.6 L236.3,837.74 L238.3,837.88 L240.3,838.03 L242.3,838.18 L244.3,838.33 L246.3,838.48 L248.3,838.64 L250.3,838.81 L252.3,838.97 L254.3,839.14 L256.3,839.32 L258.3,839.5 L260.3,839.68 L262.3,839.87 L264.3,840.06 L266.3,840.26 L268.3,840.46 L270.3,840.66 L272.3,840.87 L274.3,841.08 L276.3,841.3 L278.3,841.53 L280.3,841.75 L282.3,841.99 L284.3,842.23 L286.3,842.47 L288.3,842.72 L290.3,842.97 L292.3,843.23 L294.3,843.5 L296.3,843.77 L298.3,844.04 L300.3,844.33 L302.3,844.61 L304.3,844.91 L306.3,845.21 L308.3,845.51 L310.3,845.82 L312.3,846.14 L314.3,846.46 L316.3,846.79 L318.3,847.13 L320.3,847.47 L322.3,847.82 L324.3,848.18 L326.3,848.54 L328.3,848.91 L330.3,849.29 L332.3,849.67 L334.3,850.07 L336.3,850.46 L338.3,850.87 L340.3,851.28 L342.3,851.7 L344.3,852.13 L346.3,852.56 L348.3,853.01 L350.3,853.46 L352.3,853.91 L354.3,854.38 L356.3,854.85 L358.3,855.34 L360.3,855.83 L362.3,856.32 L364.3,856.83 L366.3,857.34 L368.3,857.87 L370.3,858.4 L372.3,858.94 L374.3,859.49 L376.3,860.05 L378.3,860.61 L380.3,861.19 L382.3,861.77 L384.3,862.37 L386.3,862.97 L388.3,863.58 L390.3,864.2 L392.3,864.83 L394.3,865.47 L396.3,866.12 L398.3,866.78 L400.3,867.45 L402.3,868.13 L404.3,868.82 L406.3,869.51 L408.3,870.22 L410.3,870.94 L412.3,871.67 L414.3,872.41 L416.3,873.16 L418.3,873.92 L420.3,874.69 L422.3,875.47 L424.3,876.26 L426.3,877.06 L428.3,877.87 L430.3,878.7 L432.3,879.53 L434.3,880.38 L436.3,881.23 L438.3,882.1 L440.3,882.98 L442.3,883.87 L444.3,884.78 L446.3,885.69 L448.3,886.61 L450.3,887.55 L452.3,888.5 L454.3,889.46 L456.3,890.43 L458.3,891.42 L460.3,892.42 L462.3,893.43 L464.3,894.45 L466.3,895.48 L468.3,896.53 L470.3,897.58 L472.3,898.66 L474.3,899.74 L476.3,900.84 L478.3,901.95 L480.3,903.07 L482.3,904.2 L484.3,905.35 L484.9,905.7 L486.9,906.46 L488.9,907.21 L490.9,907.98 L492.9,908.74 L494.9,909.51 L496.9,910.28 L498.9,911.06 L500.9,911.85 L502.9,912.64 L504.9,913.44 L506.9,914.25 L508.9,915.07 L510.9,915.91 L512.9,916.75 L514.9,917.61 L516.9,918.48 L518.9,919.37 L520.9,920.27 L522.9,921.19 L524.9,922.13 L526.9,923.08 L528.9,924.05 L530.9,925.05 L532.9,926.06 L534.9,927.1 L536.9,928.16 L538.9,929.24 L540.9,930.35 L542.9,931.48 L544.9,932.64 L546.9,933.82 L548.9,935.04 L550.9,936.28 L552.9,937.55 L554.9,938.85 L556.9,940.19 L558.9,941.55 L560.9,942.95 L562.9,944.39 L564.9,945.86 L566.9,947.36 L568.9,948.9 L570.9,950.48 L572.9,952.1 L574.9,953.76 L576.9,955.45 L578.9,957.19 L580.9,958.97 L582.9,960.8 L584.9,962.66 L586.9,964.58 L588.9,966.53 L590.9,968.54 L591.6,969.25" fill="none" stroke="#28E2E5" stroke-width="2.4" stroke-linejoin="round"/>
<path d="M591.6,969.25 L742.3,969.25" fill="none" stroke="#28E2E5" stroke-width="2.4" stroke-linejoin="round"/>
<text transform="translate(123,778.05) scale(0.85,1)" font-size="9.3" text-anchor="end">2</text>
<text transform="translate(123,835.05) scale(0.85,1)" font-size="9.3" text-anchor="end">11</text>
<text transform="translate(123,847.95) scale(0.85,1)" font-size="9.3" text-anchor="end">1</text>
<text transform="translate(123,858.05) scale(0.85,1)" font-size="9.3" text-anchor="end">4</text>
<text transform="translate(123,904.15) scale(0.85,1)" font-size="9.3" text-anchor="end">8</text>
<text transform="translate(123,943.45) scale(0.85,1)" font-size="9.3" text-anchor="end">7</text>
<text transform="translate(123,971.4) scale(0.85,1)" font-size="9.3" text-anchor="end">9</text>
<text transform="translate(123,971.4) scale(0.85,1)" font-size="9.3" text-anchor="end">10</text>
<text transform="translate(123,1021.35) scale(0.85,1)" font-size="9.3" text-anchor="end">6</text>
<text transform="translate(123,1214.75) scale(0.85,1)" font-size="9.3" text-anchor="end">5</text>
<text transform="translate(123,1275.45) scale(0.85,1)" font-size="9.3" text-anchor="end">3</text>
<line x1="645.9" y1="756" x2="645.9" y2="1293" stroke="#000" stroke-width="2.2" stroke-dasharray="9.1 10.53" stroke-dashoffset="1.0"/>
<rect x="108.5" y="756" width="658.1" height="537" fill="none" stroke="#000" stroke-width="1.5"/>
<line x1="98.5" y1="797" x2="108.5" y2="797" stroke="#000" stroke-width="1.4"/>
<text transform="translate(85,797) scale(0.85,1) rotate(-90)" font-size="20" text-anchor="middle">0.5</text>
<line x1="98.5" y1="969.25" x2="108.5" y2="969.25" stroke="#000" stroke-width="1.4"/>
<text transform="translate(85,969.25) scale(0.85,1) rotate(-90)" font-size="20" text-anchor="middle">0.0</text>
<line x1="98.5" y1="1141.5" x2="108.5" y2="1141.5" stroke="#000" stroke-width="1.4"/>
<text transform="translate(85,1141.5) scale(0.85,1) rotate(-90)" font-size="20" text-anchor="middle">−0.5</text>
<line x1="212.6" y1="1293" x2="212.6" y2="1305.5" stroke="#000" stroke-width="1.3"/>
<text transform="translate(212.6,1335.6) scale(0.85,1)" font-size="20" text-anchor="middle">−7</text>
<line x1="327.48" y1="1293" x2="327.48" y2="1305.5" stroke="#000" stroke-width="1.3"/>
<text transform="translate(327.48,1335.6) scale(0.85,1)" font-size="20" text-anchor="middle">−6</text>
<line x1="442.35" y1="1293" x2="442.35" y2="1305.5" stroke="#000" stroke-width="1.3"/>
<text transform="translate(442.35,1335.6) scale(0.85,1)" font-size="20" text-anchor="middle">−5</text>
<line x1="557.23" y1="1293" x2="557.23" y2="1305.5" stroke="#000" stroke-width="1.3"/>
<text transform="translate(557.23,1335.6) scale(0.85,1)" font-size="20" text-anchor="middle">−4</text>
<line x1="672.1" y1="1293" x2="672.1" y2="1305.5" stroke="#000" stroke-width="1.3"/>
<text transform="translate(672.1,1335.6) scale(0.85,1)" font-size="20" text-anchor="middle">−3</text>
<text transform="translate(46.7,1024.4) scale(0.85,1) rotate(-90)" font-size="20" text-anchor="middle">Coefficients</text>
<text transform="translate(437.6,1383.1) scale(0.81,1)" font-size="20" text-anchor="middle">Log Lambda</text>
<text transform="translate(893,43.7) scale(0.94,1)" font-size="63.8" font-family="'Liberation Serif', serif">C</text>
<text transform="translate(938.5,112.5) scale(0.67,1)" font-size="22.8">Points</text>
<line x1="1144.5" y1="104.9" x2="1733.5" y2="104.9" stroke="#111" stroke-width="1.7"/>
<line x1="1144.5" y1="104.9" x2="1144.5" y2="98" stroke="#111" stroke-width="1.3"/>
<text transform="translate(1144.5,89.9) scale(0.67,1)" font-size="22.8" text-anchor="middle">0</text>
<line x1="1159.22" y1="104.9" x2="1159.22" y2="101.3" stroke="#111" stroke-width="1.3"/>
<line x1="1173.95" y1="104.9" x2="1173.95" y2="101.3" stroke="#111" stroke-width="1.3"/>
<line x1="1188.67" y1="104.9" x2="1188.67" y2="101.3" stroke="#111" stroke-width="1.3"/>
<line x1="1203.4" y1="104.9" x2="1203.4" y2="98" stroke="#111" stroke-width="1.3"/>
<text transform="translate(1203.4,89.9) scale(0.67,1)" font-size="22.8" text-anchor="middle">10</text>
<line x1="1218.12" y1="104.9" x2="1218.12" y2="101.3" stroke="#111" stroke-width="1.3"/>
<line x1="1232.85" y1="104.9" x2="1232.85" y2="101.3" stroke="#111" stroke-width="1.3"/>
<line x1="1247.58" y1="104.9" x2="1247.58" y2="101.3" stroke="#111" stroke-width="1.3"/>
<line x1="1262.3" y1="104.9" x2="1262.3" y2="98" stroke="#111" stroke-width="1.3"/>
<text transform="translate(1262.3,89.9) scale(0.67,1)" font-size="22.8" text-anchor="middle">20</text>
<line x1="1277.03" y1="104.9" x2="1277.03" y2="101.3" stroke="#111" stroke-width="1.3"/>
<line x1="1291.75" y1="104.9" x2="1291.75" y2="101.3" stroke="#111" stroke-width="1.3"/>
<line x1="1306.47" y1="104.9" x2="1306.47" y2="101.3" stroke="#111" stroke-width="1.3"/>
<line x1="1321.2" y1="104.9" x2="1321.2" y2="98" stroke="#111" stroke-width="1.3"/>
<text transform="translate(1321.2,89.9) scale(0.67,1)" font-size="22.8" text-anchor="middle">30</text>
<line x1="1335.92" y1="104.9" x2="1335.92" y2="101.3" stroke="#111" stroke-width="1.3"/>
<line x1="1350.65" y1="104.9" x2="1350.65" y2="101.3" stroke="#111" stroke-width="1.3"/>
<line x1="1365.38" y1="104.9" x2="1365.38" y2="101.3" stroke="#111" stroke-width="1.3"/>
<line x1="1380.1" y1="104.9" x2="1380.1" y2="98" stroke="#111" stroke-width="1.3"/>
<text transform="translate(1380.1,89.9) scale(0.67,1)" font-size="22.8" text-anchor="middle">40</text>
<line x1="1394.83" y1="104.9" x2="1394.83" y2="101.3" stroke="#111" stroke-width="1.3"/>
<line x1="1409.55" y1="104.9" x2="1409.55" y2="101.3" stroke="#111" stroke-width="1.3"/>
<line x1="1424.28" y1="104.9" x2="1424.28" y2="101.3" stroke="#111" stroke-width="1.3"/>
<line x1="1439" y1="104.9" x2="1439" y2="98" stroke="#111" stroke-width="1.3"/>
<text transform="translate(1439,89.9) scale(0.67,1)" font-size="22.8" text-anchor="middle">50</text>
<line x1="1453.72" y1="104.9" x2="1453.72" y2="101.3" stroke="#111" stroke-width="1.3"/>
<line x1="1468.45" y1="104.9" x2="1468.45" y2="101.3" stroke="#111" stroke-width="1.3"/>
<line x1="1483.17" y1="104.9" x2="1483.17" y2="101.3" stroke="#111" stroke-width="1.3"/>
<line x1="1497.9" y1="104.9" x2="1497.9" y2="98" stroke="#111" stroke-width="1.3"/>
<text transform="translate(1497.9,89.9) scale(0.67,1)" font-size="22.8" text-anchor="middle">60</text>
<line x1="1512.62" y1="104.9" x2="1512.62" y2="101.3" stroke="#111" stroke-width="1.3"/>
<line x1="1527.35" y1="104.9" x2="1527.35" y2="101.3" stroke="#111" stroke-width="1.3"/>
<line x1="1542.08" y1="104.9" x2="1542.08" y2="101.3" stroke="#111" stroke-width="1.3"/>
<line x1="1556.8" y1="104.9" x2="1556.8" y2="98" stroke="#111" stroke-width="1.3"/>
<text transform="translate(1556.8,89.9) scale(0.67,1)" font-size="22.8" text-anchor="middle">70</text>
<line x1="1571.53" y1="104.9" x2="1571.53" y2="101.3" stroke="#111" stroke-width="1.3"/>
<line x1="1586.25" y1="104.9" x2="1586.25" y2="101.3" stroke="#111" stroke-width="1.3"/>
<line x1="1600.97" y1="104.9" x2="1600.97" y2="101.3" stroke="#111" stroke-width="1.3"/>
<line x1="1615.7" y1="104.9" x2="1615.7" y2="98" stroke="#111" stroke-width="1.3"/>
<text transform="translate(1615.7,89.9) scale(0.67,1)" font-size="22.8" text-anchor="middle">80</text>
<line x1="1630.42" y1="104.9" x2="1630.42" y2="101.3" stroke="#111" stroke-width="1.3"/>
<line x1="1645.15" y1="104.9" x2="1645.15" y2="101.3" stroke="#111" stroke-width="1.3"/>
<line x1="1659.88" y1="104.9" x2="1659.88" y2="101.3" stroke="#111" stroke-width="1.3"/>
<line x1="1674.6" y1="104.9" x2="1674.6" y2="98" stroke="#111" stroke-width="1.3"/>
<text transform="translate(1674.6,89.9) scale(0.67,1)" font-size="22.8" text-anchor="middle">90</text>
<line x1="1689.32" y1="104.9" x2="1689.32" y2="101.3" stroke="#111" stroke-width="1.3"/>
<line x1="1704.05" y1="104.9" x2="1704.05" y2="101.3" stroke="#111" stroke-width="1.3"/>
<line x1="1718.78" y1="104.9" x2="1718.78" y2="101.3" stroke="#111" stroke-width="1.3"/>
<line x1="1733.5" y1="104.9" x2="1733.5" y2="98" stroke="#111" stroke-width="1.3"/>
<text transform="translate(1733.5,89.9) scale(0.67,1)" font-size="22.8" text-anchor="middle">100</text>
<text transform="translate(938.5,178.5) scale(0.67,1)" font-size="22.8">Bone Metastasis</text>
<line x1="1144.5" y1="171.6" x2="1207" y2="171.6" stroke="#111" stroke-width="1.7"/>
<line x1="1144.5" y1="171.6" x2="1144.5" y2="178.1" stroke="#111" stroke-width="1.3"/>
<line x1="1207" y1="171.6" x2="1207" y2="165.1" stroke="#111" stroke-width="1.3"/>
<text transform="translate(1207,155.4) scale(0.625,1)" font-size="22.8" text-anchor="middle">Yes</text>
<text transform="translate(1144.5,202.8) scale(0.67,1)" font-size="22.8" text-anchor="middle">No</text>
<text transform="translate(938.5,243) scale(0.67,1)" font-size="22.8">Osteoporosis</text>
<line x1="1144.5" y1="237.6" x2="1282.5" y2="237.6" stroke="#111" stroke-width="1.7"/>
<line x1="1144.5" y1="237.6" x2="1144.5" y2="244.1" stroke="#111" stroke-width="1.3"/>
<line x1="1282.5" y1="237.6" x2="1282.5" y2="231.1" stroke="#111" stroke-width="1.3"/>
<text transform="translate(1282.5,221.3) scale(0.67,1)" font-size="22.8" text-anchor="middle">No</text>
<text transform="translate(1144.5,268.8) scale(0.625,1)" font-size="22.8" text-anchor="middle">Yes</text>
<text transform="translate(938.5,298) scale(0.67,1)" font-size="22.8">Number of Concomitant</text>
<text transform="translate(938.5,324.6) scale(0.67,1)" font-size="22.8">Medications</text>
<line x1="1144.2" y1="303.6" x2="1733.6" y2="303.6" stroke="#111" stroke-width="1.7"/>
<line x1="1144.2" y1="303.6" x2="1144.2" y2="310.1" stroke="#111" stroke-width="1.3"/>
<text transform="translate(1144.2,335.4) scale(0.67,1)" font-size="22.8" text-anchor="middle">0</text>
<line x1="1186.3" y1="303.6" x2="1186.3" y2="310.1" stroke="#111" stroke-width="1.3"/>
<text transform="translate(1186.3,335.4) scale(0.67,1)" font-size="22.8" text-anchor="middle">5</text>
<line x1="1228.4" y1="303.6" x2="1228.4" y2="310.1" stroke="#111" stroke-width="1.3"/>
<text transform="translate(1228.4,335.4) scale(0.67,1)" font-size="22.8" text-anchor="middle">10</text>
<line x1="1270.5" y1="303.6" x2="1270.5" y2="310.1" stroke="#111" stroke-width="1.3"/>
<text transform="translate(1270.5,335.4) scale(0.67,1)" font-size="22.8" text-anchor="middle">15</text>
<line x1="1312.6" y1="303.6" x2="1312.6" y2="310.1" stroke="#111" stroke-width="1.3"/>
<text transform="translate(1312.6,335.4) scale(0.67,1)" font-size="22.8" text-anchor="middle">20</text>
<line x1="1354.7" y1="303.6" x2="1354.7" y2="310.1" stroke="#111" stroke-width="1.3"/>
<text transform="translate(1354.7,335.4) scale(0.67,1)" font-size="22.8" text-anchor="middle">25</text>
<line x1="1396.8" y1="303.6" x2="1396.8" y2="310.1" stroke="#111" stroke-width="1.3"/>
<text transform="translate(1396.8,335.4) scale(0.67,1)" font-size="22.8" text-anchor="middle">30</text>
<line x1="1438.9" y1="303.6" x2="1438.9" y2="310.1" stroke="#111" stroke-width="1.3"/>
<text transform="translate(1438.9,335.4) scale(0.67,1)" font-size="22.8" text-anchor="middle">35</text>
<line x1="1481" y1="303.6" x2="1481" y2="310.1" stroke="#111" stroke-width="1.3"/>
<text transform="translate(1481,335.4) scale(0.67,1)" font-size="22.8" text-anchor="middle">40</text>
<line x1="1523.1" y1="303.6" x2="1523.1" y2="310.1" stroke="#111" stroke-width="1.3"/>
<text transform="translate(1523.1,335.4) scale(0.67,1)" font-size="22.8" text-anchor="middle">45</text>
<line x1="1565.2" y1="303.6" x2="1565.2" y2="310.1" stroke="#111" stroke-width="1.3"/>
<text transform="translate(1565.2,335.4) scale(0.67,1)" font-size="22.8" text-anchor="middle">50</text>
<line x1="1607.3" y1="303.6" x2="1607.3" y2="310.1" stroke="#111" stroke-width="1.3"/>
<text transform="translate(1607.3,335.4) scale(0.67,1)" font-size="22.8" text-anchor="middle">55</text>
<line x1="1649.4" y1="303.6" x2="1649.4" y2="310.1" stroke="#111" stroke-width="1.3"/>
<text transform="translate(1649.4,335.4) scale(0.67,1)" font-size="22.8" text-anchor="middle">60</text>
<line x1="1691.5" y1="303.6" x2="1691.5" y2="310.1" stroke="#111" stroke-width="1.3"/>
<text transform="translate(1691.5,335.4) scale(0.67,1)" font-size="22.8" text-anchor="middle">65</text>
<line x1="1733.6" y1="303.6" x2="1733.6" y2="310.1" stroke="#111" stroke-width="1.3"/>
<text transform="translate(1733.6,335.4) scale(0.67,1)" font-size="22.8" text-anchor="middle">70</text>
<text transform="translate(938.5,375.2) scale(0.67,1)" font-size="22.8">Dosage</text>
<line x1="1144.3" y1="369.5" x2="1276.4" y2="369.5" stroke="#111" stroke-width="1.7"/>
<line x1="1144.3" y1="369.5" x2="1144.3" y2="376" stroke="#111" stroke-width="1.3"/>
<text transform="translate(1144.3,401.8) scale(0.67,1)" font-size="22.8" text-anchor="middle">1</text>
<line x1="1170.72" y1="369.5" x2="1170.72" y2="363" stroke="#111" stroke-width="1.3"/>
<text transform="translate(1170.72,354) scale(0.67,1)" font-size="22.8" text-anchor="middle">2</text>
<line x1="1197.14" y1="369.5" x2="1197.14" y2="376" stroke="#111" stroke-width="1.3"/>
<text transform="translate(1197.14,401.8) scale(0.67,1)" font-size="22.8" text-anchor="middle">3</text>
<line x1="1223.56" y1="369.5" x2="1223.56" y2="363" stroke="#111" stroke-width="1.3"/>
<text transform="translate(1223.56,354) scale(0.67,1)" font-size="22.8" text-anchor="middle">4</text>
<line x1="1249.98" y1="369.5" x2="1249.98" y2="376" stroke="#111" stroke-width="1.3"/>
<text transform="translate(1249.98,401.8) scale(0.67,1)" font-size="22.8" text-anchor="middle">5</text>
<line x1="1276.4" y1="369.5" x2="1276.4" y2="363" stroke="#111" stroke-width="1.3"/>
<text transform="translate(1276.4,354) scale(0.67,1)" font-size="22.8" text-anchor="middle">6</text>
<text transform="translate(938.5,443.4) scale(0.67,1)" font-size="22.8" style="font-kerning:normal">Total Points</text>
<line x1="1144.3" y1="436.5" x2="1733.5" y2="436.5" stroke="#111" stroke-width="1.7"/>
<line x1="1144.3" y1="436.5" x2="1144.3" y2="443" stroke="#111" stroke-width="1.3"/>
<text transform="translate(1144.3,467.8) scale(0.67,1)" font-size="22.8" text-anchor="middle">0</text>
<line x1="1162.71" y1="436.5" x2="1162.71" y2="439.9" stroke="#111" stroke-width="1.3"/>
<line x1="1181.12" y1="436.5" x2="1181.12" y2="439.9" stroke="#111" stroke-width="1.3"/>
<line x1="1199.54" y1="436.5" x2="1199.54" y2="439.9" stroke="#111" stroke-width="1.3"/>
<line x1="1217.95" y1="436.5" x2="1217.95" y2="443" stroke="#111" stroke-width="1.3"/>
<text transform="translate(1217.95,467.8) scale(0.67,1)" font-size="22.8" text-anchor="middle">20</text>
<line x1="1236.36" y1="436.5" x2="1236.36" y2="439.9" stroke="#111" stroke-width="1.3"/>
<line x1="1254.77" y1="436.5" x2="1254.77" y2="439.9" stroke="#111" stroke-width="1.3"/>
<line x1="1273.19" y1="436.5" x2="1273.19" y2="439.9" stroke="#111" stroke-width="1.3"/>
<line x1="1291.6" y1="436.5" x2="1291.6" y2="443" stroke="#111" stroke-width="1.3"/>
<text transform="translate(1291.6,467.8) scale(0.67,1)" font-size="22.8" text-anchor="middle">40</text>
<line x1="1310.01" y1="436.5" x2="1310.01" y2="439.9" stroke="#111" stroke-width="1.3"/>
<line x1="1328.42" y1="436.5" x2="1328.42" y2="439.9" stroke="#111" stroke-width="1.3"/>
<line x1="1346.84" y1="436.5" x2="1346.84" y2="439.9" stroke="#111" stroke-width="1.3"/>
<line x1="1365.25" y1="436.5" x2="1365.25" y2="443" stroke="#111" stroke-width="1.3"/>
<text transform="translate(1365.25,467.8) scale(0.67,1)" font-size="22.8" text-anchor="middle">60</text>
<line x1="1383.66" y1="436.5" x2="1383.66" y2="439.9" stroke="#111" stroke-width="1.3"/>
<line x1="1402.07" y1="436.5" x2="1402.07" y2="439.9" stroke="#111" stroke-width="1.3"/>
<line x1="1420.49" y1="436.5" x2="1420.49" y2="439.9" stroke="#111" stroke-width="1.3"/>
<line x1="1438.9" y1="436.5" x2="1438.9" y2="443" stroke="#111" stroke-width="1.3"/>
<text transform="translate(1438.9,467.8) scale(0.67,1)" font-size="22.8" text-anchor="middle">80</text>
<line x1="1457.31" y1="436.5" x2="1457.31" y2="439.9" stroke="#111" stroke-width="1.3"/>
<line x1="1475.72" y1="436.5" x2="1475.72" y2="439.9" stroke="#111" stroke-width="1.3"/>
<line x1="1494.14" y1="436.5" x2="1494.14" y2="439.9" stroke="#111" stroke-width="1.3"/>
<line x1="1512.55" y1="436.5" x2="1512.55" y2="443" stroke="#111" stroke-width="1.3"/>
<text transform="translate(1512.55,467.8) scale(0.67,1)" font-size="22.8" text-anchor="middle">100</text>
<line x1="1530.96" y1="436.5" x2="1530.96" y2="439.9" stroke="#111" stroke-width="1.3"/>
<line x1="1549.38" y1="436.5" x2="1549.38" y2="439.9" stroke="#111" stroke-width="1.3"/>
<line x1="1567.79" y1="436.5" x2="1567.79" y2="439.9" stroke="#111" stroke-width="1.3"/>
<line x1="1586.2" y1="436.5" x2="1586.2" y2="443" stroke="#111" stroke-width="1.3"/>
<text transform="translate(1586.2,467.8) scale(0.67,1)" font-size="22.8" text-anchor="middle">120</text>
<line x1="1604.61" y1="436.5" x2="1604.61" y2="439.9" stroke="#111" stroke-width="1.3"/>
<line x1="1623.03" y1="436.5" x2="1623.03" y2="439.9" stroke="#111" stroke-width="1.3"/>
<line x1="1641.44" y1="436.5" x2="1641.44" y2="439.9" stroke="#111" stroke-width="1.3"/>
<line x1="1659.85" y1="436.5" x2="1659.85" y2="443" stroke="#111" stroke-width="1.3"/>
<text transform="translate(1659.85,467.8) scale(0.67,1)" font-size="22.8" text-anchor="middle">140</text>
<line x1="1678.26" y1="436.5" x2="1678.26" y2="439.9" stroke="#111" stroke-width="1.3"/>
<line x1="1696.67" y1="436.5" x2="1696.67" y2="439.9" stroke="#111" stroke-width="1.3"/>
<line x1="1715.09" y1="436.5" x2="1715.09" y2="439.9" stroke="#111" stroke-width="1.3"/>
<line x1="1733.5" y1="436.5" x2="1733.5" y2="443" stroke="#111" stroke-width="1.3"/>
<text transform="translate(1733.5,467.8) scale(0.67,1)" font-size="22.8" text-anchor="middle">160</text>
<text transform="translate(938.5,509.3) scale(0.67,1)" font-size="22.8">Linear Predictor</text>
<line x1="1124.7" y1="502" x2="1666.5" y2="502" stroke="#111" stroke-width="1.7"/>
<line x1="1124.7" y1="502" x2="1124.7" y2="508.5" stroke="#111" stroke-width="1.3"/>
<text transform="translate(1124.7,533) scale(0.67,1)" font-size="22.8" text-anchor="middle">−4</text>
<line x1="1144.05" y1="502" x2="1144.05" y2="505.4" stroke="#111" stroke-width="1.3"/>
<line x1="1163.4" y1="502" x2="1163.4" y2="508.5" stroke="#111" stroke-width="1.3"/>
<text transform="translate(1163.4,533) scale(0.67,1)" font-size="22.8" text-anchor="middle">−3.5</text>
<line x1="1182.75" y1="502" x2="1182.75" y2="505.4" stroke="#111" stroke-width="1.3"/>
<line x1="1202.1" y1="502" x2="1202.1" y2="508.5" stroke="#111" stroke-width="1.3"/>
<text transform="translate(1202.1,533) scale(0.67,1)" font-size="22.8" text-anchor="middle">−3</text>
<line x1="1221.45" y1="502" x2="1221.45" y2="505.4" stroke="#111" stroke-width="1.3"/>
<line x1="1240.8" y1="502" x2="1240.8" y2="508.5" stroke="#111" stroke-width="1.3"/>
<text transform="translate(1240.8,533) scale(0.67,1)" font-size="22.8" text-anchor="middle">−2.5</text>
<line x1="1260.15" y1="502" x2="1260.15" y2="505.4" stroke="#111" stroke-width="1.3"/>
<line x1="1279.5" y1="502" x2="1279.5" y2="508.5" stroke="#111" stroke-width="1.3"/>
<text transform="translate(1279.5,533) scale(0.67,1)" font-size="22.8" text-anchor="middle">−2</text>
<line x1="1298.85" y1="502" x2="1298.85" y2="505.4" stroke="#111" stroke-width="1.3"/>
<line x1="1318.2" y1="502" x2="1318.2" y2="508.5" stroke="#111" stroke-width="1.3"/>
<text transform="translate(1318.2,533) scale(0.67,1)" font-size="22.8" text-anchor="middle">−1.5</text>
<line x1="1337.55" y1="502" x2="1337.55" y2="505.4" stroke="#111" stroke-width="1.3"/>
<line x1="1356.9" y1="502" x2="1356.9" y2="508.5" stroke="#111" stroke-width="1.3"/>
<text transform="translate(1356.9,533) scale(0.67,1)" font-size="22.8" text-anchor="middle">−1</text>
<line x1="1376.25" y1="502" x2="1376.25" y2="505.4" stroke="#111" stroke-width="1.3"/>
<line x1="1395.6" y1="502" x2="1395.6" y2="508.5" stroke="#111" stroke-width="1.3"/>
<text transform="translate(1395.6,533) scale(0.67,1)" font-size="22.8" text-anchor="middle">−0.5</text>
<line x1="1414.95" y1="502" x2="1414.95" y2="505.4" stroke="#111" stroke-width="1.3"/>
<line x1="1434.3" y1="502" x2="1434.3" y2="508.5" stroke="#111" stroke-width="1.3"/>
<text transform="translate(1434.3,533) scale(0.67,1)" font-size="22.8" text-anchor="middle">0</text>
<line x1="1453.65" y1="502" x2="1453.65" y2="505.4" stroke="#111" stroke-width="1.3"/>
<line x1="1473" y1="502" x2="1473" y2="508.5" stroke="#111" stroke-width="1.3"/>
<text transform="translate(1473,533) scale(0.67,1)" font-size="22.8" text-anchor="middle">0.5</text>
<line x1="1492.35" y1="502" x2="1492.35" y2="505.4" stroke="#111" stroke-width="1.3"/>
<line x1="1511.7" y1="502" x2="1511.7" y2="508.5" stroke="#111" stroke-width="1.3"/>
<text transform="translate(1511.7,533) scale(0.67,1)" font-size="22.8" text-anchor="middle">1</text>
<line x1="1531.05" y1="502" x2="1531.05" y2="505.4" stroke="#111" stroke-width="1.3"/>
<line x1="1550.4" y1="502" x2="1550.4" y2="508.5" stroke="#111" stroke-width="1.3"/>
<text transform="translate(1550.4,533) scale(0.67,1)" font-size="22.8" text-anchor="middle">1.5</text>
<line x1="1569.75" y1="502" x2="1569.75" y2="505.4" stroke="#111" stroke-width="1.3"/>
<line x1="1589.1" y1="502" x2="1589.1" y2="508.5" stroke="#111" stroke-width="1.3"/>
<text transform="translate(1589.1,533) scale(0.67,1)" font-size="22.8" text-anchor="middle">2</text>
<line x1="1608.45" y1="502" x2="1608.45" y2="505.4" stroke="#111" stroke-width="1.3"/>
<line x1="1627.8" y1="502" x2="1627.8" y2="508.5" stroke="#111" stroke-width="1.3"/>
<text transform="translate(1627.8,533) scale(0.67,1)" font-size="22.8" text-anchor="middle">2.5</text>
<line x1="1647.15" y1="502" x2="1647.15" y2="505.4" stroke="#111" stroke-width="1.3"/>
<line x1="1666.5" y1="502" x2="1666.5" y2="508.5" stroke="#111" stroke-width="1.3"/>
<text transform="translate(1666.5,533) scale(0.67,1)" font-size="22.8" text-anchor="middle">3</text>
<text transform="translate(938.5,575.3) scale(0.67,1)" font-size="22.8">Risk of Y</text>
<line x1="1264.23" y1="568.3" x2="1604.37" y2="568.3" stroke="#111" stroke-width="1.7"/>
<line x1="1264.23" y1="568.3" x2="1264.23" y2="574.8" stroke="#111" stroke-width="1.3"/>
<text transform="translate(1264.23,599.9) scale(0.67,1)" font-size="22.8" text-anchor="middle">0.1</text>
<line x1="1327" y1="568.3" x2="1327" y2="574.8" stroke="#111" stroke-width="1.3"/>
<text transform="translate(1327,599.9) scale(0.67,1)" font-size="22.8" text-anchor="middle">0.2</text>
<line x1="1368.72" y1="568.3" x2="1368.72" y2="574.8" stroke="#111" stroke-width="1.3"/>
<text transform="translate(1368.72,599.9) scale(0.67,1)" font-size="22.8" text-anchor="middle">0.3</text>
<line x1="1402.92" y1="568.3" x2="1402.92" y2="574.8" stroke="#111" stroke-width="1.3"/>
<text transform="translate(1402.92,599.9) scale(0.67,1)" font-size="22.8" text-anchor="middle">0.4</text>
<line x1="1434.3" y1="568.3" x2="1434.3" y2="574.8" stroke="#111" stroke-width="1.3"/>
<text transform="translate(1434.3,599.9) scale(0.67,1)" font-size="22.8" text-anchor="middle">0.5</text>
<line x1="1465.68" y1="568.3" x2="1465.68" y2="574.8" stroke="#111" stroke-width="1.3"/>
<text transform="translate(1465.68,599.9) scale(0.67,1)" font-size="22.8" text-anchor="middle">0.6</text>
<line x1="1499.88" y1="568.3" x2="1499.88" y2="574.8" stroke="#111" stroke-width="1.3"/>
<text transform="translate(1499.88,599.9) scale(0.67,1)" font-size="22.8" text-anchor="middle">0.7</text>
<line x1="1541.6" y1="568.3" x2="1541.6" y2="574.8" stroke="#111" stroke-width="1.3"/>
<text transform="translate(1541.6,599.9) scale(0.67,1)" font-size="22.8" text-anchor="middle">0.8</text>
<line x1="1604.37" y1="568.3" x2="1604.37" y2="574.8" stroke="#111" stroke-width="1.3"/>
<text transform="translate(1604.37,599.9) scale(0.67,1)" font-size="22.8" text-anchor="middle">0.9</text>
<text transform="translate(889.2,762.9) scale(0.94,1)" font-size="61.5" font-family="'Liberation Serif', serif">D</text>
<clipPath id="dclip"><rect x="964.6" y="750.5" width="583.9" height="543.5"/></clipPath>
<line x1="958.64" y1="1325.05" x2="1553.36" y2="720.85" stroke="#A6A6A6" stroke-width="1.2" clip-path="url(#dclip)"/>
<path d="M1008.2,1274.1 L1009.7,1238.8 L1010.6,1204.2 L1011.4,1192.1 L1013.2,1185.2 L1014.9,1174.8 L1018.3,1164.5 L1019.2,1157.5 L1021.8,1152.4 L1023.5,1142 L1028.7,1131.6 L1033,1119.5 L1037.4,1109.1 L1045.1,1101.4 L1052.9,1093.6 L1059,1080.6 L1060.7,1079.8 L1074.5,1060.7 L1076.1,1053.1 L1084.2,1033.9 L1086.2,1031.4 L1088.7,1030.4 L1099.3,1007.2 L1102.8,1003.7 L1105.9,1003.7 L1113.9,983.5 L1119,977 L1123,968.4 L1123.5,966.6 L1127,962.8 L1129.1,961.8 L1137.6,955.8 L1146.7,943.2 L1150,939.2 L1165.6,911.6 L1168.1,908.1 L1177.7,897.3 L1178.1,893.9 L1181.5,891.7 L1201,864.1 L1204,862.8 L1207.5,861 L1207.9,858 L1212.2,858 L1219.6,856.3 L1223,852.8 L1226.9,852.8 L1229.9,846.4 L1233.4,845.5 L1234.7,838.6 L1245,838.1 L1245.9,836.4 L1251.1,836.4 L1270.1,829.4 L1289.5,829.4 L1296.6,825.7 L1306.1,825.9 L1315.6,824.1 L1334.5,822.1 L1348,819 L1362.2,815.4 L1380,813.5 L1405.2,793.8 L1503.8,770.9" fill="none" stroke="#DD5A7A" stroke-width="2.0" stroke-linejoin="round"/>
<path d="M1008.2,1274.1 L1008.5,1242 L1008.8,1188.7 L1009.5,1183.5 L1012.3,1183.5 L1012.6,1179.7 L1014,1176.6 L1015.4,1167.9 L1016.6,1152.4 L1018,1147.2 L1020.9,1147.2 L1022.7,1142.9 L1026.1,1134.2 L1028.7,1134.2 L1028.7,1124.7 L1032.2,1116.1 L1033.9,1114.3 L1034.8,1102.2 L1041.7,1097 L1043.4,1093.6 L1045.1,1088.4 L1048.6,1079.4 L1051.2,1079.4 L1052,1074.6 L1059.8,1056.6 L1070.9,1056.6 L1070.9,1052.1 L1075.6,1043 L1085.4,1015.8 L1089.7,1015.8 L1101.1,993.1 L1116.3,993.1 L1126.7,974.9 L1127,970.9 L1131.4,965.4 L1137.6,948 L1143.5,943.4 L1146.5,943.4 L1151.2,934.3 L1163.8,929.3 L1165.1,929.3 L1164.7,920.7 L1178.5,915.7 L1179.8,915.7 L1192.8,884.4 L1195.4,884.4 L1217,848.1 L1220.9,848.1 L1220.9,843.3 L1228.2,843.3 L1228.2,838.8 L1247.6,838.8 L1248.5,829.9 L1252,829.9 L1252.8,825.1 L1275.7,825.1 L1290.3,820.6 L1309.3,820.6 L1309.3,816 L1335.7,816 L1347.6,811.5 L1380.4,811.5 L1393.2,807.1 L1409.2,797.8 L1503.8,770.9" fill="none" stroke="#3F9C05" stroke-width="2.1" stroke-linejoin="round"/>
<path d="M1008.2,1274.1 L1008.2,1202.5 L1017.1,1202.5 L1017.1,1058.3 L1026,1058.3 L1026,986.5 L1038.6,986.5 L1038.6,914.6 L1090.7,914.6 L1103.7,843 L1203.8,843 L1203.8,770.9 L1503.8,770.9" fill="none" stroke="#0096DC" stroke-width="2.2" stroke-linejoin="round"/>
<rect x="964.6" y="750.5" width="583.9" height="543.5" fill="none" stroke="#262626" stroke-width="1.5"/>
<line x1="954" y1="1274.1" x2="964.6" y2="1274.1" stroke="#111" stroke-width="1.4"/>
<text transform="translate(941.4,1274.1) rotate(-90) scale(0.93,1)" font-size="17.7" text-anchor="middle" font-weight="bold">0.0</text>
<line x1="1008.2" y1="1294" x2="1008.2" y2="1305.5" stroke="#111" stroke-width="1.4"/>
<text transform="translate(1008.2,1330.6) scale(0.93,1)" font-size="17.7" text-anchor="middle" font-weight="bold">0.0</text>
<line x1="954" y1="1173.4" x2="964.6" y2="1173.4" stroke="#111" stroke-width="1.4"/>
<text transform="translate(941.4,1173.4) rotate(-90) scale(0.93,1)" font-size="17.7" text-anchor="middle" font-weight="bold">0.2</text>
<line x1="1107.32" y1="1294" x2="1107.32" y2="1305.5" stroke="#111" stroke-width="1.4"/>
<text transform="translate(1107.32,1330.6) scale(0.93,1)" font-size="17.7" text-anchor="middle" font-weight="bold">0.2</text>
<line x1="954" y1="1072.7" x2="964.6" y2="1072.7" stroke="#111" stroke-width="1.4"/>
<text transform="translate(941.4,1072.7) rotate(-90) scale(0.93,1)" font-size="17.7" text-anchor="middle" font-weight="bold">0.4</text>
<line x1="1206.44" y1="1294" x2="1206.44" y2="1305.5" stroke="#111" stroke-width="1.4"/>
<text transform="translate(1206.44,1330.6) scale(0.93,1)" font-size="17.7" text-anchor="middle" font-weight="bold">0.4</text>
<line x1="954" y1="972" x2="964.6" y2="972" stroke="#111" stroke-width="1.4"/>
<text transform="translate(941.4,972) rotate(-90) scale(0.93,1)" font-size="17.7" text-anchor="middle" font-weight="bold">0.6</text>
<line x1="1305.56" y1="1294" x2="1305.56" y2="1305.5" stroke="#111" stroke-width="1.4"/>
<text transform="translate(1305.56,1330.6) scale(0.93,1)" font-size="17.7" text-anchor="middle" font-weight="bold">0.6</text>
<line x1="954" y1="871.3" x2="964.6" y2="871.3" stroke="#111" stroke-width="1.4"/>
<text transform="translate(941.4,871.3) rotate(-90) scale(0.93,1)" font-size="17.7" text-anchor="middle" font-weight="bold">0.8</text>
<line x1="1404.68" y1="1294" x2="1404.68" y2="1305.5" stroke="#111" stroke-width="1.4"/>
<text transform="translate(1404.68,1330.6) scale(0.93,1)" font-size="17.7" text-anchor="middle" font-weight="bold">0.8</text>
<line x1="954" y1="770.6" x2="964.6" y2="770.6" stroke="#111" stroke-width="1.4"/>
<text transform="translate(941.4,770.6) rotate(-90) scale(0.93,1)" font-size="17.7" text-anchor="middle" font-weight="bold">1.0</text>
<line x1="1503.8" y1="1294" x2="1503.8" y2="1305.5" stroke="#111" stroke-width="1.4"/>
<text transform="translate(1503.8,1330.6) scale(0.93,1)" font-size="17.7" text-anchor="middle" font-weight="bold">1.0</text>
<text transform="translate(1256.2,1360.3) scale(0.9,1)" font-size="24.2" text-anchor="middle" font-weight="bold">1 − Specificity</text>
<text transform="translate(911.3,1022.6) rotate(-90) scale(0.925,1)" font-size="23.8" text-anchor="middle" font-weight="bold">Sensitivity</text>
<text transform="translate(1355.3,982.5) scale(0.965,1)" font-size="15.4" fill="#DD5A7A">AUC: 0.764</text>
<text transform="translate(1355.3,1007.9) scale(0.965,1)" font-size="15.4" fill="#3F9C05">AUC: 0.768</text>
<text transform="translate(1355.3,1033) scale(0.965,1)" font-size="15.4" fill="#0096DC">AUC: 0.899</text>
<rect x="1582.1" y="994.1" width="187" height="76.8" fill="#fff" stroke="#333" stroke-width="1.4"/>
<line x1="1591.3" y1="1013.3" x2="1612.9" y2="1013.3" stroke="#DD5A7A" stroke-width="2.3"/>
<text transform="translate(1622,1019.2)" font-size="16.3">Training cohort</text>
<line x1="1591.3" y1="1032.55" x2="1612.9" y2="1032.55" stroke="#3F9C05" stroke-width="2.3"/>
<text transform="translate(1622,1038.45) scale(1.012,1)" font-size="16.3">Internal test cohort</text>
<line x1="1591.3" y1="1051.8" x2="1612.9" y2="1051.8" stroke="#0096DC" stroke-width="2.3"/>
<text transform="translate(1622,1057.7) scale(1.013,1)" font-size="16.3">External test cohort</text>
</svg>
</body></html>
